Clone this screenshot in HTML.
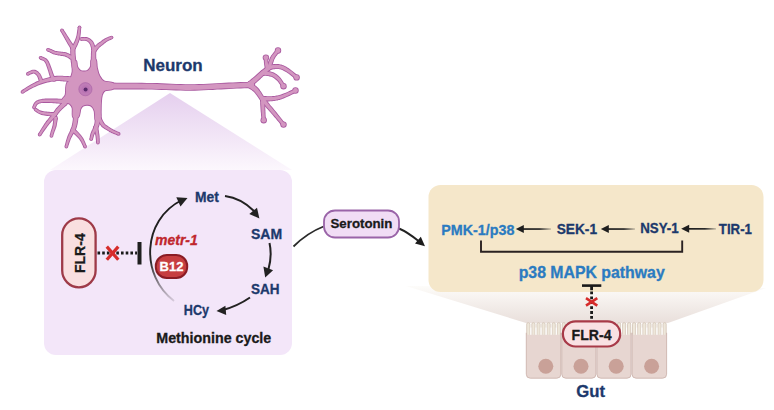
<!DOCTYPE html>
<html><head><meta charset="utf-8">
<style>
html,body{margin:0;padding:0;background:#fff;}
body{width:774px;height:410px;overflow:hidden;}
svg{display:block;}
text{font-family:"Liberation Sans",sans-serif;font-weight:bold;}
</style></head>
<body>
<svg width="774" height="410" viewBox="0 0 774 410">
<defs>
  <linearGradient id="tri" x1="0" y1="0" x2="0" y2="1">
    <stop offset="0" stop-color="#e5cfee"/>
    <stop offset="1" stop-color="#fcf7fd"/>
  </linearGradient>
  <linearGradient id="trap" x1="0" y1="0" x2="0" y2="1">
    <stop offset="0" stop-color="#fdfcfa"/>
    <stop offset="0.2" stop-color="#f9f6f3"/>
    <stop offset="1" stop-color="#e9dfdb"/>
  </linearGradient>
  <linearGradient id="arcg" x1="0" y1="0" x2="0" y2="1">
    <stop offset="0" stop-color="#1a1a1a"/>
    <stop offset="0.6" stop-color="#262626"/>
    <stop offset="1" stop-color="#d6cadb"/>
  </linearGradient>
  <linearGradient id="fadeL" x1="0" y1="0" x2="1" y2="0">
    <stop offset="0" stop-color="#1e1e1e"/>
    <stop offset="0.6" stop-color="#2a2a2a"/>
    <stop offset="1" stop-color="#2a2a2a" stop-opacity="0.2"/>
  </linearGradient>
  <filter id="soft" x="-5%" y="-5%" width="110%" height="110%"><feGaussianBlur stdDeviation="0.35"/></filter>
</defs>

<!-- triangle from neuron to purple box -->
<polygon points="170,93 50,170 292,170" fill="url(#tri)"/>
<!-- purple box -->
<rect x="44" y="170" width="248" height="185" rx="12" fill="#f3e6f9"/>

<!-- trapezoid below beige box -->
<polygon points="406,286 766,288 668,323 526,323" fill="url(#trap)"/>
<!-- beige box -->
<rect x="428.5" y="185" width="335" height="107" rx="12" fill="#f5e7ca"/>

<!-- NEURON placeholder -->
<g id="neuron" filter="url(#soft)">
<g fill="#a9599f">
<path d="M70,79.5 C70.9,77.7 72.1,74.6 72.5,72 C72.9,69.4 71.9,65.8 72.5,64 C73.1,62.2 75.4,60.6 76.2,61 C77.0,61.4 76.6,64.9 77.2,66.5 C77.8,68.1 78.9,69.6 80,70.4 C81.1,71.2 82.7,71.4 84,71.4 C85.3,71.4 86.9,71.2 88,70.4 C89.1,69.6 90.2,68.2 90.8,66.5 C91.4,64.8 90.5,61.1 91.4,60 C92.3,58.9 95.1,58.7 96,60 C96.9,61.3 96.4,65.3 97,68 C97.6,70.7 98.3,73.8 99.5,76 C100.7,78.2 101.8,80.0 104,81.2 C106.2,82.4 111.5,81.7 113,83 C114.5,84.3 114.3,87.8 113,89 C111.7,90.2 106.8,89.5 105,90.5 C103.2,91.5 102.7,92.9 102,95 C101.3,97.1 101.2,100.2 101,103 C100.8,105.8 100.9,109.3 100.8,112 C100.7,114.7 101.4,117.7 100.5,119 C99.6,120.3 96.5,121.3 95.5,120 C94.5,118.7 95.2,113.3 94.5,111 C93.8,108.7 92.8,107.0 91.5,106 C90.2,105.0 88.4,104.8 87,104.8 C85.6,104.8 84.1,105.1 83,105.8 C81.9,106.5 81.2,107.1 80.5,109 C79.8,110.9 79.8,115.7 78.5,117 C77.2,118.3 74.0,118.5 73,117 C72.0,115.5 73.0,110.2 72.5,108 C72.0,105.8 70.9,104.8 70,104 C69.1,103.2 68.3,103.2 67,103 C65.7,102.8 62.8,103.2 62,102.5 C61.2,101.8 61.9,100.2 62.5,99 C63.1,97.8 64.9,96.8 65.5,95 C66.1,93.2 65.8,90.0 66,88 C66.2,86.0 66.3,84.4 67,83 C67.7,81.6 69.1,81.3 70,79.5Z" stroke="#a9599f" stroke-width="1.7" stroke-linejoin="round"/>
<path d="M78.4,70.4 L78.2,69.6 L78.0,68.5 L77.7,67.3 L77.4,65.9 L77.0,64.5 L76.7,63.1 L76.5,61.7 L76.3,60.6 L76.1,59.6 L76.0,58.5 L75.9,57.5 L75.8,56.5 L75.7,55.6 L75.6,54.6 L75.6,53.7 L75.5,52.9 L75.5,52.1 L75.5,51.4 L75.5,50.6 L75.5,49.9 L75.4,49.3 L75.5,48.7 L75.5,48.2 L75.4,47.8 L70.4,47.8 L70.3,48.1 L70.3,48.6 L70.3,49.2 L70.3,49.9 L70.3,50.6 L70.2,51.4 L70.2,52.2 L70.3,53.1 L70.3,54.0 L70.3,54.9 L70.3,55.8 L70.4,56.9 L70.4,57.9 L70.5,59.1 L70.6,60.2 L70.7,61.4 L70.9,62.7 L71.2,64.1 L71.4,65.6 L71.7,67.1 L72.0,68.5 L72.2,69.8 L72.4,70.8 L72.6,71.6Z"/><circle cx="72.9" cy="47.8" r="2.55"/><circle cx="75.5" cy="71.0" r="2.98"/>
<path d="M74.9,46.7 L74.6,46.2 L74.1,45.6 L73.6,44.9 L73.1,44.1 L72.5,43.2 L71.9,42.4 L71.3,41.6 L70.8,40.8 L70.4,40.2 L70.0,39.6 L69.7,39.0 L69.3,38.5 L69.0,37.9 L68.6,37.3 L68.2,36.7 L67.7,36.0 L67.2,35.2 L66.6,34.3 L66.0,33.3 L65.4,32.3 L64.8,31.4 L64.2,30.5 L63.8,29.8 L63.4,29.3 L60.4,31.1 L60.7,31.7 L61.1,32.4 L61.6,33.3 L62.1,34.3 L62.7,35.3 L63.3,36.3 L63.8,37.2 L64.3,38.0 L64.7,38.7 L65.0,39.4 L65.4,40.0 L65.7,40.6 L66.0,41.2 L66.4,41.8 L66.8,42.5 L67.2,43.2 L67.6,43.9 L68.1,44.8 L68.7,45.7 L69.2,46.6 L69.7,47.4 L70.2,48.2 L70.6,48.8 L70.9,49.3Z"/><circle cx="61.9" cy="30.2" r="1.79"/><circle cx="72.9" cy="48.0" r="2.38"/>
<path d="M75.0,49.8 L75.2,49.5 L75.4,49.2 L75.7,48.8 L76.0,48.2 L76.3,47.6 L76.7,47.0 L77.1,46.2 L77.4,45.5 L77.8,44.7 L78.1,43.8 L78.5,42.9 L78.9,41.9 L79.2,40.9 L79.6,39.8 L79.9,38.6 L80.2,37.5 L80.4,36.2 L80.6,34.8 L80.8,33.3 L80.9,31.9 L81.0,30.5 L81.1,29.3 L81.2,28.3 L81.3,27.5 L77.7,27.1 L77.6,27.9 L77.5,28.9 L77.3,30.1 L77.1,31.5 L76.9,32.8 L76.7,34.2 L76.5,35.5 L76.2,36.5 L75.9,37.5 L75.6,38.5 L75.2,39.4 L74.9,40.3 L74.5,41.2 L74.1,42.0 L73.7,42.8 L73.4,43.5 L73.0,44.2 L72.7,44.7 L72.4,45.2 L72.1,45.7 L71.8,46.1 L71.5,46.5 L71.2,46.9 L71.0,47.2Z"/><circle cx="79.5" cy="27.3" r="1.79"/><circle cx="73.0" cy="48.5" r="2.38"/>
<path d="M72.6,55.5 L72.2,55.3 L71.7,55.0 L71.0,54.6 L70.2,54.2 L69.4,53.7 L68.5,53.3 L67.6,52.9 L66.7,52.5 L65.8,52.3 L64.9,52.1 L64.1,52.0 L63.3,51.9 L62.5,51.8 L61.7,51.7 L61.0,51.7 L60.3,51.6 L59.6,51.5 L58.9,51.4 L58.1,51.3 L57.4,51.2 L56.7,51.1 L56.1,51.0 L55.5,50.9 L55.0,50.7 L54.6,50.6 L54.2,50.5 L53.8,50.3 L53.5,50.1 L53.1,49.9 L52.7,49.7 L52.2,49.5 L51.8,49.3 L51.3,49.1 L50.8,48.9 L50.4,48.8 L49.9,48.6 L49.5,48.4 L49.1,48.3 L48.8,48.1 L48.6,48.1 L47.2,51.3 L47.5,51.5 L47.8,51.6 L48.1,51.7 L48.5,51.9 L49.0,52.1 L49.4,52.3 L49.8,52.5 L50.2,52.7 L50.6,52.9 L50.9,53.1 L51.3,53.3 L51.7,53.5 L52.2,53.7 L52.7,54.0 L53.3,54.2 L54.0,54.5 L54.6,54.6 L55.3,54.8 L56.0,55.0 L56.8,55.1 L57.5,55.2 L58.2,55.4 L59.0,55.5 L59.7,55.6 L60.4,55.8 L61.2,55.9 L62.0,56.0 L62.7,56.1 L63.4,56.2 L64.1,56.3 L64.7,56.5 L65.3,56.7 L65.9,56.9 L66.6,57.2 L67.3,57.6 L68.0,58.1 L68.7,58.5 L69.4,58.9 L69.9,59.2 L70.4,59.5Z"/><circle cx="47.9" cy="49.7" r="1.79"/><circle cx="71.5" cy="57.5" r="2.29"/>
<path d="M97.0,70.9 L96.9,70.0 L96.9,68.8 L96.8,67.4 L96.7,65.8 L96.6,64.2 L96.5,62.6 L96.4,61.2 L96.4,59.9 L96.3,58.9 L96.3,57.9 L96.2,56.9 L96.2,56.0 L96.2,55.2 L96.2,54.5 L96.2,53.8 L96.2,53.1 L96.2,52.6 L96.3,52.0 L96.3,51.5 L96.4,51.1 L96.5,50.6 L96.5,50.3 L96.6,49.9 L96.6,49.6 L91.6,48.8 L91.5,49.1 L91.5,49.4 L91.4,49.8 L91.3,50.3 L91.2,50.8 L91.1,51.4 L91.0,52.1 L91.0,52.9 L90.9,53.6 L90.9,54.4 L90.9,55.2 L90.9,56.1 L90.8,57.0 L90.8,57.9 L90.8,59.0 L90.8,60.1 L90.8,61.3 L90.9,62.8 L90.9,64.4 L90.9,66.0 L91.0,67.6 L91.0,69.0 L91.0,70.2 L91.0,71.1Z"/><circle cx="94.1" cy="49.2" r="2.55"/><circle cx="94.0" cy="71.0" r="2.98"/>
<path d="M96.2,48.7 L96.0,48.2 L95.8,47.4 L95.4,46.5 L95.0,45.4 L94.6,44.4 L94.1,43.3 L93.6,42.2 L93.0,41.3 L92.4,40.5 L91.7,39.9 L91.1,39.3 L90.4,38.8 L89.7,38.3 L88.9,37.9 L88.2,37.6 L87.4,37.3 L86.5,37.1 L85.5,37.0 L84.5,37.0 L83.6,37.0 L82.7,37.1 L82.0,37.1 L81.4,37.2 L81.0,37.2 L81.0,40.8 L81.5,40.8 L82.2,40.8 L82.9,40.8 L83.7,40.8 L84.4,40.8 L85.2,40.8 L85.8,40.9 L86.2,41.1 L86.7,41.3 L87.1,41.5 L87.6,41.8 L88.0,42.1 L88.4,42.4 L88.7,42.8 L89.1,43.2 L89.4,43.7 L89.7,44.3 L90.1,45.0 L90.4,46.0 L90.7,47.0 L91.0,48.0 L91.3,48.9 L91.6,49.7 L91.8,50.3Z"/><circle cx="81.0" cy="39.0" r="1.79"/><circle cx="94.0" cy="49.5" r="2.38"/>
<path d="M96.3,51.5 L96.6,51.2 L96.9,50.8 L97.4,50.2 L97.8,49.7 L98.3,49.1 L98.7,48.5 L99.2,48.0 L99.5,47.6 L99.9,47.3 L100.2,47.0 L100.6,46.7 L100.9,46.4 L101.3,46.1 L101.7,45.8 L102.2,45.5 L102.7,45.1 L103.2,44.7 L103.7,44.2 L104.3,43.8 L104.8,43.3 L105.4,42.9 L105.9,42.4 L106.4,42.0 L107.0,41.7 L107.6,41.3 L108.3,41.0 L109.0,40.6 L109.8,40.3 L110.6,39.9 L111.3,39.6 L111.9,39.3 L112.3,39.1 L110.9,35.9 L110.5,36.0 L109.9,36.2 L109.2,36.5 L108.4,36.8 L107.5,37.2 L106.7,37.5 L105.8,37.9 L105.0,38.3 L104.3,38.7 L103.6,39.2 L102.9,39.6 L102.3,40.1 L101.7,40.5 L101.1,41.0 L100.6,41.4 L100.1,41.7 L99.7,42.0 L99.2,42.3 L98.8,42.6 L98.4,42.9 L97.9,43.2 L97.4,43.6 L97.0,43.9 L96.5,44.4 L95.9,44.9 L95.4,45.5 L94.8,46.1 L94.3,46.7 L93.8,47.2 L93.3,47.7 L93.0,48.2 L92.7,48.5Z"/><circle cx="111.6" cy="37.5" r="1.79"/><circle cx="94.5" cy="50.0" r="2.38"/>
<path d="M72.4,76.6 L72.0,76.5 L71.5,76.4 L70.8,76.4 L70.1,76.3 L69.2,76.2 L68.3,76.1 L67.2,76.0 L66.2,76.0 L65.1,75.9 L63.9,75.9 L62.6,75.8 L61.3,75.7 L59.8,75.7 L58.2,75.7 L56.6,75.8 L55.0,76.0 L53.4,76.3 L51.6,76.6 L49.9,77.0 L48.1,77.4 L46.3,77.9 L44.5,78.4 L42.7,79.0 L41.1,79.5 L39.4,80.2 L37.8,80.9 L36.2,81.6 L34.6,82.4 L33.1,83.2 L31.7,84.0 L30.3,84.7 L29.1,85.5 L27.8,86.2 L26.6,86.9 L25.5,87.7 L24.4,88.4 L23.5,89.1 L22.6,89.6 L22.0,90.1 L21.4,90.5 L23.4,93.5 L24.0,93.1 L24.7,92.7 L25.5,92.1 L26.5,91.5 L27.5,90.9 L28.6,90.2 L29.8,89.6 L30.9,88.9 L32.2,88.3 L33.6,87.6 L35.0,86.9 L36.5,86.3 L38.0,85.6 L39.5,85.0 L41.0,84.4 L42.5,83.9 L44.1,83.4 L45.8,83.0 L47.5,82.5 L49.2,82.2 L50.9,81.8 L52.5,81.6 L54.1,81.3 L55.6,81.2 L57.0,81.1 L58.3,81.1 L59.7,81.1 L61.0,81.2 L62.3,81.3 L63.5,81.4 L64.7,81.5 L65.8,81.6 L66.8,81.7 L67.7,81.8 L68.5,81.9 L69.3,82.1 L70.0,82.2 L70.6,82.3 L71.2,82.4 L71.6,82.4Z"/><circle cx="22.4" cy="92.0" r="1.79"/><circle cx="72.0" cy="79.5" r="2.98"/>
<path d="M55.9,78.3 L55.7,78.0 L55.5,77.6 L55.3,77.3 L55.0,77.0 L54.8,76.6 L54.5,76.1 L54.2,75.6 L54.0,75.1 L53.7,74.4 L53.4,73.5 L53.0,72.5 L52.7,71.4 L52.3,70.3 L51.9,69.2 L51.5,68.1 L51.1,67.1 L50.7,66.1 L50.4,65.1 L50.0,64.1 L49.5,63.1 L49.1,62.1 L48.6,61.1 L48.0,60.2 L47.3,59.3 L46.5,58.6 L45.5,57.9 L44.6,57.4 L43.7,57.1 L42.9,56.7 L42.1,56.5 L41.6,56.3 L41.2,56.2 L39.8,59.4 L40.3,59.7 L40.9,59.9 L41.6,60.2 L42.3,60.4 L43.0,60.8 L43.6,61.1 L44.1,61.5 L44.5,61.9 L44.8,62.4 L45.2,63.0 L45.5,63.8 L45.9,64.6 L46.2,65.5 L46.6,66.5 L46.9,67.5 L47.3,68.5 L47.6,69.5 L47.9,70.5 L48.3,71.6 L48.6,72.7 L48.9,73.8 L49.2,74.8 L49.5,75.8 L49.8,76.7 L50.2,77.5 L50.5,78.3 L50.9,78.9 L51.2,79.4 L51.5,79.9 L51.8,80.3 L51.9,80.5 L52.1,80.7Z"/><circle cx="40.5" cy="57.8" r="1.79"/><circle cx="54.0" cy="79.5" r="2.29"/>
<path d="M43.3,80.2 L43.1,79.7 L42.8,79.1 L42.5,78.3 L42.1,77.3 L41.7,76.4 L41.3,75.4 L40.7,74.4 L40.2,73.6 L39.5,72.9 L38.9,72.2 L38.3,71.6 L37.5,71.1 L36.7,70.6 L35.9,70.1 L35.0,69.8 L33.9,69.7 L32.8,69.7 L31.7,70.0 L30.7,70.4 L29.7,70.9 L28.8,71.3 L28.1,71.7 L27.5,72.1 L27.1,72.3 L28.5,75.5 L29.1,75.3 L29.7,75.0 L30.5,74.6 L31.3,74.2 L32.1,73.9 L32.8,73.7 L33.4,73.5 L33.7,73.5 L34.0,73.6 L34.3,73.7 L34.7,74.0 L35.2,74.3 L35.6,74.7 L36.1,75.1 L36.5,75.6 L36.8,76.0 L37.2,76.5 L37.5,77.2 L37.8,78.0 L38.1,78.9 L38.4,79.7 L38.7,80.5 L38.9,81.3 L39.1,81.8Z"/><circle cx="27.8" cy="73.9" r="1.79"/><circle cx="41.2" cy="81.0" r="2.21"/>
<path d="M64.2,99.0 L63.2,98.9 L62.0,98.9 L60.5,98.8 L58.8,98.7 L57.0,98.6 L55.3,98.6 L53.6,98.5 L52.1,98.5 L50.7,98.5 L49.3,98.5 L47.9,98.6 L46.6,98.6 L45.3,98.6 L44.0,98.7 L42.8,98.8 L41.7,99.0 L40.7,99.2 L39.8,99.4 L38.9,99.6 L38.1,99.9 L37.3,100.2 L36.6,100.6 L35.9,101.0 L35.3,101.6 L34.6,102.3 L34.0,103.0 L33.6,103.8 L33.2,104.6 L32.9,105.3 L32.7,106.0 L32.5,106.4 L32.4,106.7 L35.6,108.3 L35.8,107.9 L36.1,107.3 L36.3,106.7 L36.6,106.1 L36.9,105.6 L37.2,105.1 L37.5,104.7 L37.7,104.4 L38.1,104.2 L38.5,104.0 L38.9,103.8 L39.4,103.6 L40.0,103.4 L40.7,103.3 L41.4,103.1 L42.3,103.0 L43.2,102.9 L44.3,102.9 L45.4,102.9 L46.6,102.9 L47.9,102.9 L49.2,103.0 L50.6,103.0 L51.9,103.1 L53.4,103.2 L55.0,103.3 L56.7,103.4 L58.5,103.6 L60.1,103.7 L61.6,103.8 L62.9,104.0 L63.8,104.0Z"/><circle cx="34.0" cy="107.5" r="1.79"/><circle cx="64.0" cy="101.5" r="2.55"/>
<path d="M34.5,111.0 L34.9,111.2 L35.3,111.6 L35.9,112.0 L36.6,112.5 L37.4,113.1 L38.3,113.6 L39.3,114.1 L40.4,114.6 L41.6,114.9 L43.0,115.2 L44.4,115.5 L45.8,115.7 L47.2,115.9 L48.6,116.1 L49.8,116.2 L50.7,116.4 L51.6,116.5 L52.3,116.6 L53.0,116.7 L53.5,116.7 L54.0,116.7 L54.3,116.8 L54.6,116.8 L54.9,116.8 L55.1,112.2 L54.8,112.2 L54.5,112.2 L54.1,112.2 L53.7,112.2 L53.3,112.2 L52.7,112.1 L52.1,112.1 L51.3,112.0 L50.3,111.9 L49.1,111.8 L47.7,111.7 L46.4,111.6 L45.0,111.4 L43.7,111.3 L42.5,111.1 L41.6,110.8 L40.8,110.6 L40.0,110.3 L39.3,109.9 L38.7,109.5 L38.0,109.1 L37.5,108.7 L36.9,108.3 L36.5,108.0Z"/><circle cx="55.0" cy="114.5" r="2.29"/><circle cx="35.5" cy="109.5" r="1.79"/>
<path d="M63.0,101.0 L62.5,101.5 L61.9,102.2 L61.0,103.0 L60.1,104.0 L59.2,105.0 L58.2,105.9 L57.4,106.9 L56.6,107.8 L55.9,108.6 L55.4,109.3 L54.9,110.0 L54.4,110.7 L54.0,111.3 L53.5,112.0 L53.0,112.7 L52.4,113.5 L51.7,114.4 L50.9,115.4 L50.1,116.4 L49.1,117.5 L48.2,118.7 L47.2,119.9 L46.2,121.1 L45.3,122.4 L44.3,123.8 L43.3,125.4 L42.3,127.0 L41.2,128.7 L40.3,130.2 L39.4,131.7 L38.7,132.8 L38.1,133.7 L41.1,135.7 L41.7,134.8 L42.5,133.7 L43.4,132.3 L44.5,130.8 L45.6,129.2 L46.7,127.7 L47.7,126.2 L48.7,125.0 L49.6,123.8 L50.6,122.7 L51.6,121.6 L52.6,120.5 L53.5,119.4 L54.5,118.4 L55.3,117.5 L56.2,116.5 L56.9,115.6 L57.5,114.9 L58.0,114.2 L58.5,113.6 L58.9,113.0 L59.4,112.4 L59.8,111.8 L60.4,111.2 L61.1,110.5 L62.0,109.6 L62.9,108.7 L63.9,107.8 L64.8,107.0 L65.7,106.2 L66.4,105.5 L67.0,105.0Z"/><circle cx="39.6" cy="134.7" r="1.79"/><circle cx="65.0" cy="103.0" r="2.80"/>
<path d="M53.5,117.7 L53.4,118.3 L53.3,119.2 L53.2,120.2 L53.1,121.3 L53.0,122.5 L52.8,123.6 L52.7,124.7 L52.5,125.6 L52.3,126.3 L52.1,127.1 L51.9,127.8 L51.7,128.6 L51.4,129.3 L51.2,130.0 L50.9,130.7 L50.7,131.4 L50.5,132.1 L50.4,132.7 L50.2,133.3 L50.1,133.9 L49.9,134.4 L49.8,134.9 L49.7,135.2 L49.7,135.5 L53.1,136.5 L53.2,136.2 L53.3,135.8 L53.4,135.3 L53.6,134.8 L53.7,134.3 L53.9,133.7 L54.1,133.2 L54.3,132.6 L54.5,132.0 L54.7,131.3 L55.0,130.7 L55.3,129.9 L55.6,129.1 L55.9,128.3 L56.2,127.4 L56.5,126.4 L56.7,125.4 L56.9,124.3 L57.1,123.1 L57.3,121.9 L57.5,120.8 L57.7,119.8 L57.8,118.9 L57.9,118.3Z"/><circle cx="51.4" cy="136.0" r="1.79"/><circle cx="55.7" cy="118.0" r="2.21"/>
<path d="M72.9,113.9 L72.9,114.4 L72.9,115.0 L72.9,115.7 L72.9,116.5 L72.9,117.4 L72.8,118.2 L72.8,119.0 L72.8,119.7 L72.7,120.4 L72.6,121.1 L72.5,121.9 L72.4,122.6 L72.2,123.4 L72.1,124.1 L72.0,124.7 L71.8,125.3 L71.7,125.9 L71.6,126.4 L71.4,126.9 L71.2,127.5 L71.0,127.9 L70.9,128.4 L70.7,128.8 L70.6,129.1 L75.4,130.9 L75.5,130.6 L75.6,130.3 L75.8,129.8 L76.1,129.3 L76.3,128.7 L76.5,128.1 L76.7,127.4 L77.0,126.7 L77.1,125.9 L77.3,125.2 L77.5,124.4 L77.7,123.6 L77.8,122.8 L78.0,122.0 L78.1,121.1 L78.2,120.3 L78.3,119.4 L78.4,118.5 L78.5,117.6 L78.6,116.7 L78.6,115.9 L78.6,115.2 L78.7,114.6 L78.7,114.1Z"/><circle cx="73.0" cy="130.0" r="2.55"/><circle cx="75.8" cy="114.0" r="2.89"/>
<path d="M70.9,128.9 L70.6,129.5 L70.2,130.3 L69.7,131.3 L69.2,132.4 L68.6,133.6 L68.1,134.8 L67.5,136.0 L67.1,137.2 L66.7,138.4 L66.3,139.7 L65.9,141.0 L65.6,142.3 L65.3,143.5 L65.0,144.6 L64.8,145.5 L64.6,146.2 L68.0,147.2 L68.2,146.5 L68.5,145.6 L68.9,144.6 L69.2,143.4 L69.6,142.2 L70.1,141.0 L70.5,139.8 L70.9,138.8 L71.4,137.8 L72.0,136.7 L72.6,135.6 L73.2,134.5 L73.8,133.5 L74.3,132.5 L74.8,131.7 L75.1,131.1Z"/><circle cx="66.3" cy="146.7" r="1.79"/><circle cx="73.0" cy="130.0" r="2.38"/>
<path d="M71.9,132.2 L72.3,132.5 L72.9,133.0 L73.5,133.6 L74.2,134.2 L74.9,134.9 L75.6,135.5 L76.3,136.2 L76.8,136.7 L77.3,137.3 L77.8,137.8 L78.3,138.3 L78.7,138.8 L79.1,139.3 L79.5,139.8 L79.9,140.4 L80.3,141.0 L80.7,141.7 L81.2,142.5 L81.6,143.4 L82.1,144.4 L82.5,145.3 L82.9,146.2 L83.2,146.9 L83.5,147.4 L86.7,146.0 L86.5,145.5 L86.2,144.7 L85.9,143.9 L85.5,142.9 L85.1,141.9 L84.6,140.9 L84.2,139.9 L83.7,139.0 L83.3,138.2 L82.8,137.5 L82.4,136.9 L81.9,136.3 L81.5,135.7 L81.0,135.1 L80.5,134.5 L80.0,133.9 L79.4,133.2 L78.7,132.5 L78.0,131.7 L77.3,131.0 L76.6,130.3 L76.0,129.7 L75.5,129.2 L75.1,128.8Z"/><circle cx="85.1" cy="146.7" r="1.79"/><circle cx="73.5" cy="130.5" r="2.29"/>
<path d="M95.0,115.7 L95.0,116.3 L94.9,117.2 L94.9,118.3 L94.8,119.4 L94.7,120.6 L94.6,121.7 L94.5,122.7 L94.4,123.4 L94.2,124.0 L94.1,124.5 L94.0,125.0 L93.8,125.5 L93.6,125.9 L93.5,126.3 L93.3,126.7 L93.2,127.0 L97.8,129.0 L98.0,128.8 L98.1,128.5 L98.3,128.1 L98.6,127.5 L98.9,126.9 L99.1,126.2 L99.4,125.4 L99.6,124.6 L99.8,123.6 L100.0,122.5 L100.2,121.3 L100.4,120.1 L100.6,118.9 L100.7,117.8 L100.9,117.0 L101.0,116.3Z"/><circle cx="95.5" cy="128.0" r="2.55"/><circle cx="98.0" cy="116.0" r="2.98"/>
<path d="M93.5,126.9 L93.2,127.4 L92.9,128.0 L92.6,128.8 L92.2,129.7 L91.7,130.6 L91.3,131.5 L90.9,132.4 L90.6,133.3 L90.4,134.1 L90.1,135.0 L90.0,135.8 L89.8,136.6 L89.7,137.4 L89.6,138.0 L89.5,138.5 L89.5,138.9 L92.9,139.7 L93.1,139.3 L93.2,138.7 L93.3,138.1 L93.5,137.4 L93.7,136.7 L93.9,136.0 L94.1,135.3 L94.4,134.7 L94.7,134.1 L95.1,133.3 L95.5,132.5 L96.0,131.7 L96.5,130.9 L96.9,130.2 L97.3,129.5 L97.5,129.1Z"/><circle cx="91.2" cy="139.3" r="1.79"/><circle cx="95.5" cy="128.0" r="2.29"/>
<path d="M93.7,128.4 L93.9,129.1 L94.1,129.9 L94.3,130.9 L94.6,132.0 L94.9,133.1 L95.1,134.3 L95.3,135.3 L95.5,136.3 L95.6,137.1 L95.7,138.1 L95.8,139.0 L95.9,139.9 L96.0,140.8 L96.0,141.6 L96.1,142.3 L96.1,142.8 L99.7,142.6 L99.7,142.1 L99.7,141.5 L99.7,140.7 L99.7,139.8 L99.7,138.8 L99.6,137.8 L99.6,136.8 L99.5,135.7 L99.4,134.7 L99.2,133.5 L99.0,132.3 L98.9,131.2 L98.7,130.0 L98.5,129.0 L98.4,128.2 L98.3,127.6Z"/><circle cx="97.9" cy="142.7" r="1.79"/><circle cx="96.0" cy="128.0" r="2.29"/>
<path d="M97.4,120.1 L97.7,120.6 L98.0,121.2 L98.4,122.0 L98.9,122.9 L99.4,123.8 L100.0,124.7 L100.7,125.6 L101.3,126.5 L102.0,127.2 L102.8,127.8 L103.5,128.3 L104.2,128.8 L104.9,129.2 L105.6,129.6 L106.3,130.0 L106.9,130.3 L107.5,130.7 L108.2,131.1 L108.8,131.5 L109.4,131.9 L110.1,132.2 L110.8,132.6 L111.4,132.9 L112.2,133.2 L112.9,133.6 L113.8,133.9 L114.6,134.3 L115.5,134.6 L116.3,134.9 L117.0,135.2 L117.6,135.4 L118.0,135.6 L119.4,132.2 L118.9,132.1 L118.3,131.8 L117.6,131.5 L116.9,131.2 L116.1,130.8 L115.3,130.5 L114.5,130.1 L113.8,129.8 L113.2,129.4 L112.6,129.1 L112.0,128.8 L111.5,128.4 L110.9,128.0 L110.3,127.7 L109.7,127.3 L109.1,126.9 L108.5,126.4 L107.8,126.0 L107.2,125.6 L106.6,125.2 L106.0,124.8 L105.5,124.4 L105.1,124.0 L104.7,123.5 L104.3,123.0 L103.9,122.3 L103.4,121.5 L103.0,120.7 L102.6,119.9 L102.2,119.1 L101.9,118.4 L101.6,117.9Z"/><circle cx="118.7" cy="133.9" r="1.79"/><circle cx="99.5" cy="119.0" r="2.38"/>
<path d="M99.8,88.9 L100.6,88.9 L101.5,89.0 L102.6,89.0 L103.9,89.1 L105.5,89.2 L107.5,89.3 L110.0,89.3 L113.0,89.4 L116.6,89.4 L120.9,89.4 L125.8,89.4 L130.9,89.5 L136.3,89.5 L141.7,89.5 L147.0,89.5 L151.9,89.6 L156.7,89.7 L161.5,89.9 L166.3,90.1 L171.1,90.3 L175.9,90.5 L180.6,90.6 L185.4,90.7 L190.0,90.7 L194.6,90.7 L199.3,90.5 L203.8,90.3 L208.4,90.1 L212.8,89.9 L217.1,89.6 L221.2,89.4 L225.1,89.2 L229.1,89.0 L233.1,88.8 L237.0,88.6 L240.8,88.5 L244.3,88.3 L247.5,88.2 L250.1,88.0 L252.1,87.9 L251.9,81.7 L249.8,81.7 L247.2,81.9 L244.1,82.0 L240.5,82.1 L236.8,82.3 L232.8,82.5 L228.8,82.6 L224.9,82.8 L220.9,83.0 L216.7,83.2 L212.4,83.5 L208.0,83.7 L203.6,83.9 L199.0,84.1 L194.5,84.2 L190.0,84.3 L185.4,84.2 L180.8,84.1 L176.1,83.9 L171.4,83.7 L166.6,83.5 L161.8,83.3 L156.9,83.1 L152.1,83.0 L147.0,82.9 L141.7,82.8 L136.3,82.8 L131.0,82.8 L125.8,82.7 L121.0,82.7 L116.7,82.7 L113.0,82.6 L110.1,82.6 L107.7,82.5 L105.8,82.4 L104.2,82.3 L103.0,82.3 L101.9,82.2 L101.0,82.1 L100.2,82.1Z"/><circle cx="252.0" cy="84.8" r="3.15"/><circle cx="100.0" cy="85.5" r="3.40"/>
<path d="M251.0,87.2 L251.5,86.8 L252.2,86.2 L253.1,85.5 L254.0,84.7 L255.0,83.8 L256.1,82.9 L257.0,82.1 L258.0,81.3 L258.8,80.5 L259.7,79.7 L260.5,78.9 L261.3,78.1 L262.1,77.4 L262.9,76.6 L263.7,75.9 L264.5,75.2 L265.3,74.4 L266.2,73.6 L267.2,72.8 L268.1,72.0 L269.0,71.3 L269.8,70.6 L270.4,70.0 L270.9,69.6 L267.5,65.4 L267.0,65.8 L266.3,66.4 L265.5,67.0 L264.5,67.7 L263.6,68.5 L262.6,69.3 L261.6,70.1 L260.7,70.8 L259.9,71.6 L259.0,72.3 L258.2,73.1 L257.3,73.8 L256.5,74.6 L255.7,75.3 L254.9,76.0 L254.0,76.7 L253.1,77.5 L252.2,78.3 L251.1,79.1 L250.1,79.9 L249.2,80.7 L248.3,81.3 L247.6,81.9 L247.0,82.4Z"/><circle cx="269.2" cy="67.5" r="2.72"/><circle cx="249.0" cy="84.8" r="3.15"/>
<path d="M271.5,68.7 L271.6,68.3 L271.8,67.8 L271.9,67.2 L272.1,66.6 L272.3,65.9 L272.4,65.2 L272.6,64.5 L272.9,63.8 L273.1,63.1 L273.3,62.4 L273.6,61.7 L273.8,61.0 L274.0,60.3 L274.3,59.6 L274.6,58.9 L275.0,58.2 L275.4,57.5 L276.0,56.6 L276.7,55.7 L277.4,54.8 L278.1,53.9 L278.7,53.1 L279.3,52.4 L279.7,51.8 L276.3,49.2 L275.9,49.7 L275.4,50.3 L274.7,51.1 L273.9,52.0 L273.1,52.9 L272.4,53.9 L271.6,54.9 L271.0,55.8 L270.5,56.7 L270.0,57.5 L269.6,58.4 L269.3,59.2 L269.0,60.0 L268.7,60.8 L268.4,61.5 L268.1,62.2 L267.9,62.9 L267.6,63.7 L267.3,64.4 L267.1,65.2 L266.9,65.8 L266.7,66.4 L266.6,66.9 L266.5,67.3Z"/><circle cx="278.0" cy="50.5" r="2.12"/><circle cx="269.0" cy="68.0" r="2.63"/>
<path d="M270.0,68.5 L269.9,68.0 L269.7,67.4 L269.5,66.6 L269.3,65.8 L269.1,65.0 L268.9,64.2 L268.7,63.4 L268.6,62.7 L268.5,62.0 L268.4,61.3 L268.3,60.5 L268.2,59.8 L268.2,59.1 L268.1,58.4 L268.1,57.9 L268.0,57.5 L263.8,57.7 L263.8,58.1 L263.8,58.7 L263.8,59.3 L263.8,60.1 L263.8,60.9 L263.9,61.7 L263.9,62.5 L264.0,63.3 L264.1,64.2 L264.2,65.0 L264.4,66.0 L264.5,66.8 L264.7,67.7 L264.8,68.4 L264.9,69.1 L265.0,69.5Z"/><circle cx="265.9" cy="57.6" r="2.12"/><circle cx="267.5" cy="69.0" r="2.55"/>
<path d="M269.4,70.1 L270.0,70.0 L270.8,69.8 L271.6,69.7 L272.5,69.5 L273.5,69.3 L274.4,69.2 L275.3,69.1 L276.0,69.0 L276.8,69.0 L277.5,69.0 L278.2,69.0 L278.8,69.1 L279.5,69.2 L280.1,69.3 L280.8,69.5 L281.5,69.7 L282.3,70.1 L283.1,70.5 L284.0,70.9 L285.0,71.5 L285.9,72.0 L286.9,72.6 L287.8,73.3 L288.7,73.8 L289.6,74.5 L290.5,75.2 L291.4,75.9 L292.4,76.7 L293.2,77.4 L294.0,78.0 L294.7,78.6 L295.2,79.0 L298.0,75.8 L297.5,75.4 L296.8,74.8 L296.1,74.1 L295.2,73.3 L294.2,72.5 L293.3,71.7 L292.3,70.9 L291.3,70.2 L290.4,69.5 L289.4,68.8 L288.4,68.1 L287.4,67.5 L286.4,66.8 L285.3,66.3 L284.3,65.7 L283.3,65.3 L282.3,64.9 L281.3,64.6 L280.4,64.4 L279.5,64.2 L278.6,64.1 L277.7,64.0 L276.9,64.0 L276.0,64.0 L274.9,64.0 L273.8,64.1 L272.7,64.2 L271.7,64.4 L270.7,64.6 L269.8,64.7 L269.1,64.8 L268.6,64.9Z"/><circle cx="296.6" cy="77.4" r="2.12"/><circle cx="269.0" cy="67.5" r="2.63"/>
<path d="M262.4,75.6 L262.8,75.7 L263.4,75.7 L264.1,75.7 L264.8,75.7 L265.5,75.8 L266.2,75.8 L266.9,75.9 L267.5,76.0 L268.2,76.1 L268.9,76.2 L269.5,76.4 L270.2,76.5 L270.8,76.7 L271.3,76.8 L271.9,77.1 L272.5,77.3 L273.1,77.7 L273.7,78.0 L274.3,78.4 L274.9,78.9 L275.5,79.4 L276.1,79.9 L276.7,80.4 L277.3,81.0 L277.9,81.7 L278.5,82.5 L279.1,83.4 L279.7,84.3 L280.3,85.2 L280.9,86.1 L281.3,86.8 L281.7,87.3 L285.3,85.1 L285.0,84.5 L284.5,83.8 L284.0,82.9 L283.4,81.9 L282.8,80.9 L282.1,79.9 L281.4,78.9 L280.7,78.0 L280.0,77.2 L279.3,76.5 L278.6,75.8 L277.8,75.2 L277.1,74.6 L276.3,74.0 L275.5,73.5 L274.7,73.1 L273.9,72.6 L273.1,72.3 L272.3,72.0 L271.4,71.7 L270.7,71.5 L269.9,71.3 L269.2,71.2 L268.5,71.0 L267.7,70.9 L266.8,70.7 L265.9,70.6 L265.1,70.6 L264.4,70.5 L263.7,70.4 L263.2,70.4 L262.8,70.4Z"/><circle cx="283.5" cy="86.2" r="2.12"/><circle cx="262.6" cy="73.0" r="2.63"/>
<path d="M247.2,87.4 L247.7,87.7 L248.4,88.2 L249.2,88.7 L250.1,89.2 L251.0,89.8 L251.8,90.3 L252.5,90.9 L253.1,91.3 L253.5,91.7 L253.9,92.0 L254.2,92.3 L254.4,92.6 L254.7,92.9 L255.0,93.3 L255.4,93.8 L255.9,94.4 L256.4,95.1 L257.0,95.9 L257.6,96.8 L258.3,97.8 L258.9,98.7 L259.5,99.5 L260.0,100.3 L260.3,100.8 L264.9,97.8 L264.5,97.3 L264.1,96.5 L263.5,95.7 L262.9,94.7 L262.3,93.7 L261.7,92.7 L261.1,91.8 L260.5,91.0 L260.1,90.4 L259.7,89.8 L259.4,89.3 L259.0,88.8 L258.5,88.3 L258.1,87.8 L257.5,87.3 L256.9,86.7 L256.2,86.1 L255.3,85.4 L254.4,84.8 L253.5,84.1 L252.6,83.5 L251.9,83.0 L251.2,82.5 L250.8,82.2Z"/><circle cx="262.6" cy="99.3" r="2.72"/><circle cx="249.0" cy="84.8" r="3.15"/>
<path d="M262.5,101.1 L263.0,101.2 L263.7,101.2 L264.6,101.2 L265.6,101.3 L266.7,101.3 L267.9,101.4 L269.0,101.4 L270.1,101.3 L271.1,101.3 L272.1,101.2 L273.2,101.1 L274.2,100.9 L275.3,100.8 L276.4,100.6 L277.5,100.4 L278.6,100.1 L279.6,99.9 L280.7,99.5 L281.7,99.2 L282.7,98.8 L283.7,98.4 L284.7,98.0 L285.8,97.6 L286.9,97.1 L288.1,96.6 L289.4,95.9 L290.8,95.2 L292.2,94.6 L293.5,93.9 L294.7,93.3 L295.7,92.8 L296.4,92.4 L294.6,88.6 L293.8,88.9 L292.8,89.4 L291.6,90.0 L290.3,90.6 L288.9,91.2 L287.5,91.9 L286.3,92.4 L285.1,92.9 L284.1,93.3 L283.0,93.7 L282.1,94.1 L281.1,94.4 L280.2,94.7 L279.3,95.0 L278.4,95.2 L277.4,95.5 L276.5,95.6 L275.6,95.8 L274.6,95.9 L273.7,96.0 L272.7,96.1 L271.8,96.2 L270.8,96.2 L269.9,96.3 L269.0,96.3 L268.0,96.3 L267.0,96.2 L266.0,96.1 L265.0,96.1 L264.1,96.0 L263.3,95.9 L262.7,95.9Z"/><circle cx="295.5" cy="90.5" r="2.12"/><circle cx="262.6" cy="98.5" r="2.63"/>
<path d="M260.0,99.1 L260.0,99.9 L260.1,101.1 L260.2,102.4 L260.2,103.9 L260.3,105.5 L260.4,107.1 L260.5,108.7 L260.6,110.1 L260.7,111.5 L260.9,113.0 L261.0,114.5 L261.1,115.9 L261.3,117.3 L261.4,118.5 L261.5,119.6 L261.6,120.4 L265.8,120.0 L265.8,119.3 L265.7,118.2 L265.7,117.0 L265.6,115.6 L265.5,114.2 L265.5,112.7 L265.4,111.2 L265.4,109.9 L265.3,108.5 L265.3,107.0 L265.3,105.4 L265.3,103.8 L265.3,102.3 L265.3,100.9 L265.2,99.8 L265.2,98.9Z"/><circle cx="263.7" cy="120.2" r="2.12"/><circle cx="262.6" cy="99.0" r="2.63"/>
<path d="M260.9,101.1 L261.3,101.6 L261.8,102.2 L262.4,103.0 L263.1,103.9 L263.8,104.8 L264.6,105.8 L265.3,106.7 L266.1,107.6 L266.7,108.4 L267.4,109.1 L268.0,109.8 L268.7,110.5 L269.3,111.3 L270.1,112.1 L270.9,113.0 L271.8,114.0 L272.9,115.3 L274.2,116.9 L275.7,118.6 L277.2,120.4 L278.6,122.1 L279.9,123.7 L281.0,125.0 L281.9,125.9 L285.1,123.3 L284.4,122.3 L283.3,120.9 L282.0,119.3 L280.6,117.5 L279.2,115.7 L277.8,113.9 L276.5,112.3 L275.4,111.0 L274.5,109.9 L273.7,108.9 L273.0,108.0 L272.3,107.3 L271.7,106.6 L271.1,105.9 L270.5,105.2 L269.9,104.4 L269.3,103.6 L268.6,102.7 L267.9,101.7 L267.2,100.8 L266.6,99.9 L266.0,99.1 L265.5,98.4 L265.1,97.9Z"/><circle cx="283.5" cy="124.6" r="2.12"/><circle cx="263.0" cy="99.5" r="2.63"/>
<circle cx="265.9" cy="57.6" r="3.2"/><circle cx="278" cy="50.5" r="3.2"/><circle cx="296.6" cy="77.4" r="3.2"/><circle cx="283.5" cy="86.2" r="3.2"/><circle cx="295.5" cy="90.5" r="3.2"/><circle cx="263.7" cy="120.2" r="3.2"/><circle cx="283.5" cy="124.6" r="3.2"/>
</g>
<g fill="#d396c0">
<path d="M70,79.5 C70.9,77.7 72.1,74.6 72.5,72 C72.9,69.4 71.9,65.8 72.5,64 C73.1,62.2 75.4,60.6 76.2,61 C77.0,61.4 76.6,64.9 77.2,66.5 C77.8,68.1 78.9,69.6 80,70.4 C81.1,71.2 82.7,71.4 84,71.4 C85.3,71.4 86.9,71.2 88,70.4 C89.1,69.6 90.2,68.2 90.8,66.5 C91.4,64.8 90.5,61.1 91.4,60 C92.3,58.9 95.1,58.7 96,60 C96.9,61.3 96.4,65.3 97,68 C97.6,70.7 98.3,73.8 99.5,76 C100.7,78.2 101.8,80.0 104,81.2 C106.2,82.4 111.5,81.7 113,83 C114.5,84.3 114.3,87.8 113,89 C111.7,90.2 106.8,89.5 105,90.5 C103.2,91.5 102.7,92.9 102,95 C101.3,97.1 101.2,100.2 101,103 C100.8,105.8 100.9,109.3 100.8,112 C100.7,114.7 101.4,117.7 100.5,119 C99.6,120.3 96.5,121.3 95.5,120 C94.5,118.7 95.2,113.3 94.5,111 C93.8,108.7 92.8,107.0 91.5,106 C90.2,105.0 88.4,104.8 87,104.8 C85.6,104.8 84.1,105.1 83,105.8 C81.9,106.5 81.2,107.1 80.5,109 C79.8,110.9 79.8,115.7 78.5,117 C77.2,118.3 74.0,118.5 73,117 C72.0,115.5 73.0,110.2 72.5,108 C72.0,105.8 70.9,104.8 70,104 C69.1,103.2 68.3,103.2 67,103 C65.7,102.8 62.8,103.2 62,102.5 C61.2,101.8 61.9,100.2 62.5,99 C63.1,97.8 64.9,96.8 65.5,95 C66.1,93.2 65.8,90.0 66,88 C66.2,86.0 66.3,84.4 67,83 C67.7,81.6 69.1,81.3 70,79.5Z"/>
<path d="M77.6,70.6 L77.4,69.8 L77.2,68.7 L76.9,67.5 L76.5,66.1 L76.2,64.6 L75.9,63.2 L75.6,61.9 L75.4,60.7 L75.3,59.7 L75.1,58.6 L75.0,57.6 L74.9,56.6 L74.9,55.6 L74.8,54.7 L74.7,53.8 L74.7,52.9 L74.7,52.1 L74.6,51.4 L74.6,50.6 L74.6,49.9 L74.6,49.3 L74.6,48.7 L74.6,48.2 L74.6,47.8 L71.2,47.8 L71.2,48.2 L71.2,48.6 L71.1,49.2 L71.1,49.9 L71.1,50.6 L71.1,51.4 L71.1,52.2 L71.1,53.1 L71.1,53.9 L71.2,54.8 L71.2,55.8 L71.2,56.8 L71.3,57.9 L71.3,59.0 L71.4,60.1 L71.6,61.3 L71.8,62.6 L72.0,64.0 L72.3,65.4 L72.5,66.9 L72.8,68.3 L73.1,69.6 L73.3,70.7 L73.4,71.4Z"/><circle cx="72.9" cy="47.8" r="1.70"/><circle cx="75.5" cy="71.0" r="2.12"/>
<path d="M74.2,47.2 L73.9,46.7 L73.4,46.1 L72.9,45.3 L72.3,44.5 L71.7,43.7 L71.2,42.8 L70.6,42.0 L70.1,41.3 L69.7,40.7 L69.3,40.1 L68.9,39.5 L68.6,38.9 L68.2,38.3 L67.8,37.7 L67.4,37.1 L67.0,36.4 L66.5,35.6 L65.9,34.7 L65.3,33.7 L64.7,32.8 L64.0,31.8 L63.5,31.0 L63.0,30.2 L62.7,29.7 L61.1,30.7 L61.4,31.2 L61.8,32.0 L62.3,32.9 L62.9,33.8 L63.4,34.8 L64.0,35.8 L64.5,36.8 L65.0,37.6 L65.4,38.3 L65.8,39.0 L66.1,39.6 L66.4,40.2 L66.8,40.8 L67.1,41.4 L67.5,42.0 L67.9,42.7 L68.3,43.5 L68.8,44.3 L69.4,45.2 L69.9,46.1 L70.5,47.0 L70.9,47.7 L71.3,48.4 L71.6,48.8Z"/><circle cx="61.9" cy="30.2" r="0.94"/><circle cx="72.9" cy="48.0" r="1.53"/>
<path d="M74.3,49.3 L74.5,49.1 L74.7,48.7 L74.9,48.3 L75.3,47.8 L75.6,47.2 L76.0,46.6 L76.3,45.8 L76.7,45.1 L77.0,44.3 L77.4,43.5 L77.7,42.6 L78.1,41.6 L78.4,40.6 L78.8,39.5 L79.1,38.4 L79.4,37.3 L79.6,36.0 L79.8,34.7 L79.9,33.2 L80.1,31.8 L80.2,30.4 L80.3,29.2 L80.4,28.2 L80.4,27.4 L78.6,27.2 L78.5,28.0 L78.3,29.0 L78.2,30.2 L78.0,31.6 L77.8,33.0 L77.5,34.3 L77.3,35.6 L77.0,36.7 L76.7,37.7 L76.4,38.7 L76.0,39.7 L75.7,40.6 L75.3,41.5 L74.9,42.4 L74.5,43.2 L74.1,43.9 L73.8,44.5 L73.5,45.1 L73.1,45.7 L72.8,46.2 L72.5,46.6 L72.2,47.0 L71.9,47.4 L71.7,47.7Z"/><circle cx="79.5" cy="27.3" r="0.94"/><circle cx="73.0" cy="48.5" r="1.53"/>
<path d="M72.2,56.2 L71.8,56.0 L71.2,55.7 L70.6,55.3 L69.8,54.9 L69.0,54.5 L68.1,54.0 L67.3,53.7 L66.4,53.4 L65.6,53.1 L64.8,53.0 L64.0,52.8 L63.2,52.7 L62.4,52.7 L61.6,52.6 L60.9,52.5 L60.2,52.4 L59.5,52.3 L58.7,52.2 L58.0,52.1 L57.3,52.0 L56.6,51.9 L55.9,51.8 L55.3,51.7 L54.8,51.6 L54.3,51.4 L53.9,51.3 L53.5,51.1 L53.1,50.9 L52.7,50.7 L52.3,50.5 L51.9,50.3 L51.4,50.1 L51.0,49.9 L50.5,49.7 L50.0,49.5 L49.6,49.4 L49.2,49.2 L48.8,49.1 L48.5,48.9 L48.3,48.8 L47.5,50.6 L47.8,50.7 L48.1,50.8 L48.5,51.0 L48.9,51.1 L49.3,51.3 L49.7,51.5 L50.2,51.7 L50.6,51.9 L51.0,52.1 L51.3,52.3 L51.7,52.5 L52.1,52.7 L52.6,53.0 L53.1,53.2 L53.6,53.4 L54.2,53.6 L54.8,53.8 L55.5,54.0 L56.2,54.1 L56.9,54.3 L57.6,54.4 L58.4,54.5 L59.1,54.6 L59.8,54.8 L60.6,54.9 L61.3,55.0 L62.1,55.1 L62.8,55.2 L63.6,55.3 L64.3,55.5 L64.9,55.6 L65.6,55.8 L66.2,56.1 L66.9,56.5 L67.7,56.9 L68.4,57.3 L69.1,57.8 L69.8,58.2 L70.4,58.5 L70.8,58.8Z"/><circle cx="47.9" cy="49.7" r="0.94"/><circle cx="71.5" cy="57.5" r="1.44"/>
<path d="M96.1,70.9 L96.1,70.0 L96.0,68.8 L95.9,67.4 L95.8,65.9 L95.7,64.2 L95.6,62.7 L95.6,61.2 L95.5,60.0 L95.5,58.9 L95.4,57.9 L95.4,56.9 L95.4,56.0 L95.4,55.2 L95.4,54.5 L95.4,53.8 L95.4,53.1 L95.4,52.5 L95.4,51.9 L95.5,51.4 L95.6,50.9 L95.6,50.5 L95.7,50.1 L95.7,49.8 L95.8,49.5 L92.4,48.9 L92.4,49.2 L92.3,49.5 L92.2,49.9 L92.1,50.4 L92.1,50.9 L92.0,51.5 L91.9,52.2 L91.8,52.9 L91.8,53.6 L91.8,54.4 L91.7,55.2 L91.7,56.1 L91.7,57.0 L91.7,57.9 L91.7,58.9 L91.7,60.0 L91.7,61.3 L91.7,62.8 L91.7,64.4 L91.8,66.0 L91.8,67.6 L91.8,69.0 L91.9,70.2 L91.9,71.1Z"/><circle cx="94.1" cy="49.2" r="1.70"/><circle cx="94.0" cy="71.0" r="2.12"/>
<path d="M95.4,49.0 L95.2,48.4 L94.9,47.7 L94.6,46.8 L94.2,45.7 L93.8,44.7 L93.3,43.6 L92.8,42.6 L92.3,41.8 L91.7,41.1 L91.1,40.5 L90.5,39.9 L89.9,39.5 L89.2,39.0 L88.6,38.7 L87.9,38.4 L87.1,38.1 L86.3,37.9 L85.4,37.9 L84.5,37.8 L83.6,37.9 L82.8,37.9 L82.0,38.0 L81.4,38.0 L81.0,38.1 L81.0,39.9 L81.5,39.9 L82.1,39.9 L82.9,39.9 L83.6,39.9 L84.5,39.9 L85.2,40.0 L85.9,40.1 L86.5,40.3 L87.0,40.5 L87.5,40.8 L88.0,41.1 L88.5,41.4 L88.9,41.8 L89.4,42.2 L89.8,42.7 L90.1,43.2 L90.5,43.9 L90.8,44.7 L91.2,45.7 L91.5,46.7 L91.8,47.7 L92.1,48.6 L92.4,49.4 L92.6,50.0Z"/><circle cx="81.0" cy="39.0" r="0.94"/><circle cx="94.0" cy="49.5" r="1.53"/>
<path d="M95.7,51.0 L95.9,50.7 L96.3,50.2 L96.7,49.7 L97.2,49.1 L97.6,48.5 L98.1,47.9 L98.6,47.4 L99.0,47.0 L99.3,46.6 L99.7,46.3 L100.0,46.0 L100.4,45.7 L100.8,45.4 L101.2,45.1 L101.7,44.8 L102.2,44.4 L102.7,44.0 L103.2,43.5 L103.7,43.1 L104.3,42.6 L104.8,42.2 L105.4,41.7 L106.0,41.3 L106.6,41.0 L107.2,40.6 L107.9,40.2 L108.7,39.8 L109.5,39.5 L110.2,39.1 L110.9,38.8 L111.5,38.6 L112.0,38.4 L111.2,36.6 L110.8,36.8 L110.2,37.0 L109.5,37.3 L108.7,37.6 L107.9,37.9 L107.0,38.3 L106.2,38.7 L105.4,39.0 L104.8,39.4 L104.1,39.9 L103.5,40.3 L102.8,40.8 L102.2,41.2 L101.7,41.6 L101.1,42.0 L100.6,42.4 L100.2,42.7 L99.7,43.0 L99.3,43.3 L98.9,43.6 L98.4,43.9 L98.0,44.2 L97.5,44.6 L97.0,45.0 L96.5,45.5 L96.0,46.0 L95.5,46.6 L94.9,47.2 L94.4,47.8 L94.0,48.3 L93.6,48.7 L93.3,49.0Z"/><circle cx="111.6" cy="37.5" r="0.94"/><circle cx="94.5" cy="50.0" r="1.53"/>
<path d="M72.3,77.4 L71.9,77.3 L71.3,77.3 L70.7,77.2 L69.9,77.1 L69.1,77.0 L68.2,76.9 L67.2,76.9 L66.1,76.8 L65.0,76.8 L63.9,76.7 L62.6,76.6 L61.2,76.6 L59.8,76.6 L58.2,76.6 L56.7,76.7 L55.1,76.9 L53.5,77.1 L51.8,77.4 L50.0,77.8 L48.3,78.2 L46.5,78.7 L44.7,79.2 L43.0,79.8 L41.3,80.3 L39.7,81.0 L38.1,81.7 L36.5,82.4 L35.0,83.2 L33.5,84.0 L32.1,84.7 L30.7,85.5 L29.5,86.2 L28.2,86.9 L27.1,87.6 L25.9,88.4 L24.9,89.1 L24.0,89.8 L23.1,90.4 L22.4,90.8 L21.9,91.2 L22.9,92.8 L23.5,92.4 L24.2,92.0 L25.1,91.4 L26.0,90.8 L27.1,90.1 L28.2,89.5 L29.3,88.8 L30.5,88.2 L31.8,87.6 L33.2,86.9 L34.6,86.2 L36.1,85.5 L37.6,84.8 L39.2,84.2 L40.7,83.6 L42.3,83.1 L43.9,82.6 L45.5,82.1 L47.2,81.7 L49.0,81.3 L50.7,81.0 L52.4,80.7 L54.0,80.5 L55.5,80.3 L56.9,80.2 L58.3,80.2 L59.7,80.3 L61.0,80.3 L62.3,80.4 L63.6,80.6 L64.8,80.7 L65.9,80.8 L66.9,80.9 L67.8,81.0 L68.6,81.1 L69.4,81.2 L70.1,81.3 L70.7,81.4 L71.3,81.5 L71.7,81.6Z"/><circle cx="22.4" cy="92.0" r="0.94"/><circle cx="72.0" cy="79.5" r="2.12"/>
<path d="M55.2,78.7 L55.0,78.5 L54.8,78.1 L54.6,77.8 L54.3,77.4 L54.0,77.0 L53.7,76.5 L53.5,76.0 L53.2,75.4 L52.9,74.6 L52.5,73.8 L52.2,72.8 L51.9,71.7 L51.5,70.6 L51.1,69.5 L50.7,68.4 L50.3,67.4 L49.9,66.4 L49.6,65.4 L49.2,64.4 L48.8,63.4 L48.3,62.5 L47.8,61.6 L47.3,60.7 L46.7,59.9 L45.9,59.2 L45.1,58.7 L44.2,58.2 L43.4,57.8 L42.6,57.5 L41.8,57.3 L41.3,57.1 L40.9,56.9 L40.1,58.7 L40.6,58.9 L41.2,59.1 L41.9,59.4 L42.6,59.7 L43.3,60.0 L44.0,60.4 L44.6,60.8 L45.1,61.3 L45.5,61.9 L45.9,62.6 L46.3,63.4 L46.7,64.3 L47.0,65.2 L47.4,66.2 L47.7,67.2 L48.1,68.2 L48.4,69.2 L48.7,70.3 L49.1,71.3 L49.4,72.5 L49.7,73.5 L50.0,74.6 L50.3,75.6 L50.6,76.4 L51.0,77.2 L51.3,77.9 L51.6,78.5 L51.9,79.0 L52.2,79.4 L52.5,79.8 L52.6,80.1 L52.8,80.3Z"/><circle cx="40.5" cy="57.8" r="0.94"/><circle cx="54.0" cy="79.5" r="1.44"/>
<path d="M42.5,80.5 L42.3,80.0 L42.0,79.4 L41.7,78.6 L41.3,77.6 L40.9,76.7 L40.5,75.7 L40.0,74.8 L39.5,74.1 L38.9,73.4 L38.3,72.8 L37.7,72.3 L37.0,71.7 L36.3,71.3 L35.6,70.9 L34.7,70.7 L33.9,70.5 L32.9,70.6 L31.9,70.8 L31.0,71.2 L30.1,71.6 L29.2,72.1 L28.5,72.5 L27.9,72.8 L27.4,73.0 L28.2,74.8 L28.7,74.5 L29.4,74.2 L30.1,73.8 L30.9,73.5 L31.8,73.1 L32.6,72.8 L33.2,72.7 L33.7,72.7 L34.2,72.8 L34.7,73.0 L35.2,73.2 L35.7,73.6 L36.2,74.0 L36.7,74.5 L37.1,75.0 L37.5,75.5 L37.9,76.1 L38.3,76.8 L38.6,77.7 L38.9,78.6 L39.2,79.4 L39.5,80.3 L39.7,81.0 L39.9,81.5Z"/><circle cx="27.8" cy="73.9" r="0.94"/><circle cx="41.2" cy="81.0" r="1.36"/>
<path d="M64.1,99.8 L63.2,99.8 L61.9,99.7 L60.4,99.6 L58.7,99.6 L57.0,99.5 L55.2,99.4 L53.5,99.4 L52.0,99.4 L50.7,99.4 L49.3,99.4 L47.9,99.4 L46.6,99.4 L45.3,99.5 L44.1,99.6 L42.9,99.7 L41.8,99.8 L40.9,100.0 L40.0,100.2 L39.2,100.4 L38.4,100.7 L37.7,101.0 L37.0,101.3 L36.4,101.7 L35.8,102.2 L35.2,102.8 L34.7,103.5 L34.3,104.2 L34.0,105.0 L33.7,105.7 L33.5,106.3 L33.3,106.8 L33.2,107.1 L34.8,107.9 L35.0,107.5 L35.3,107.0 L35.5,106.4 L35.8,105.8 L36.1,105.2 L36.5,104.6 L36.8,104.1 L37.2,103.8 L37.6,103.5 L38.1,103.2 L38.6,103.0 L39.2,102.8 L39.8,102.6 L40.5,102.4 L41.3,102.3 L42.2,102.2 L43.1,102.1 L44.2,102.0 L45.4,102.0 L46.6,102.0 L47.9,102.1 L49.2,102.1 L50.6,102.2 L52.0,102.2 L53.4,102.3 L55.1,102.4 L56.8,102.6 L58.5,102.7 L60.2,102.9 L61.7,103.0 L62.9,103.1 L63.9,103.2Z"/><circle cx="34.0" cy="107.5" r="0.94"/><circle cx="64.0" cy="101.5" r="1.70"/>
<path d="M35.0,110.3 L35.4,110.5 L35.8,110.9 L36.4,111.3 L37.1,111.8 L37.8,112.4 L38.7,112.9 L39.6,113.3 L40.7,113.7 L41.8,114.1 L43.1,114.4 L44.5,114.6 L45.9,114.8 L47.3,115.0 L48.7,115.2 L49.9,115.4 L50.8,115.5 L51.7,115.7 L52.4,115.7 L53.0,115.8 L53.6,115.9 L54.0,115.9 L54.4,115.9 L54.7,115.9 L54.9,115.9 L55.1,113.1 L54.8,113.0 L54.5,113.0 L54.1,113.0 L53.7,113.0 L53.2,113.0 L52.6,113.0 L52.0,112.9 L51.2,112.9 L50.2,112.8 L49.0,112.7 L47.6,112.6 L46.2,112.4 L44.9,112.3 L43.5,112.1 L42.3,111.9 L41.3,111.7 L40.5,111.4 L39.7,111.0 L38.9,110.6 L38.2,110.2 L37.5,109.7 L37.0,109.3 L36.4,109.0 L36.0,108.7Z"/><circle cx="55.0" cy="114.5" r="1.44"/><circle cx="35.5" cy="109.5" r="0.94"/>
<path d="M63.6,101.6 L63.1,102.1 L62.4,102.8 L61.6,103.7 L60.7,104.6 L59.8,105.6 L58.8,106.5 L58.0,107.5 L57.2,108.4 L56.6,109.1 L56.0,109.8 L55.6,110.5 L55.1,111.2 L54.7,111.8 L54.2,112.5 L53.7,113.2 L53.1,114.0 L52.4,114.9 L51.6,115.9 L50.7,117.0 L49.8,118.1 L48.8,119.2 L47.9,120.4 L46.9,121.7 L46.0,122.9 L45.0,124.3 L44.0,125.9 L43.0,127.5 L41.9,129.1 L41.0,130.7 L40.1,132.1 L39.4,133.3 L38.8,134.2 L40.4,135.2 L41.0,134.4 L41.8,133.2 L42.7,131.8 L43.7,130.3 L44.8,128.8 L46.0,127.2 L47.0,125.7 L48.0,124.5 L49.0,123.3 L49.9,122.1 L50.9,121.0 L51.9,119.9 L52.9,118.9 L53.8,117.9 L54.7,116.9 L55.5,116.0 L56.2,115.1 L56.8,114.4 L57.3,113.7 L57.8,113.1 L58.2,112.5 L58.7,111.9 L59.2,111.3 L59.8,110.6 L60.5,109.9 L61.4,109.0 L62.3,108.1 L63.3,107.2 L64.2,106.4 L65.1,105.6 L65.8,104.9 L66.4,104.4Z"/><circle cx="39.6" cy="134.7" r="0.94"/><circle cx="65.0" cy="103.0" r="1.95"/>
<path d="M54.4,117.8 L54.3,118.5 L54.2,119.3 L54.1,120.3 L54.0,121.5 L53.8,122.6 L53.7,123.8 L53.5,124.8 L53.4,125.7 L53.2,126.6 L53.0,127.3 L52.7,128.1 L52.5,128.9 L52.2,129.6 L52.0,130.3 L51.7,131.0 L51.5,131.7 L51.3,132.3 L51.2,133.0 L51.0,133.6 L50.9,134.1 L50.8,134.6 L50.7,135.1 L50.6,135.5 L50.5,135.8 L52.3,136.2 L52.4,135.9 L52.5,135.6 L52.6,135.1 L52.8,134.6 L52.9,134.1 L53.1,133.5 L53.3,132.9 L53.5,132.3 L53.7,131.7 L54.0,131.1 L54.2,130.4 L54.5,129.6 L54.8,128.8 L55.1,128.0 L55.4,127.2 L55.6,126.3 L55.9,125.3 L56.1,124.1 L56.3,123.0 L56.5,121.8 L56.7,120.7 L56.8,119.7 L56.9,118.8 L57.0,118.2Z"/><circle cx="51.4" cy="136.0" r="0.94"/><circle cx="55.7" cy="118.0" r="1.36"/>
<path d="M73.8,113.9 L73.8,114.4 L73.7,115.0 L73.7,115.8 L73.7,116.6 L73.7,117.4 L73.7,118.2 L73.7,119.0 L73.6,119.8 L73.5,120.5 L73.4,121.3 L73.3,122.0 L73.2,122.8 L73.1,123.5 L72.9,124.3 L72.8,124.9 L72.7,125.6 L72.5,126.1 L72.4,126.7 L72.2,127.2 L72.0,127.8 L71.8,128.3 L71.7,128.7 L71.5,129.1 L71.4,129.4 L74.6,130.6 L74.7,130.3 L74.9,130.0 L75.0,129.5 L75.3,129.0 L75.5,128.4 L75.7,127.8 L75.9,127.1 L76.1,126.4 L76.3,125.8 L76.5,125.0 L76.7,124.3 L76.8,123.5 L77.0,122.7 L77.1,121.8 L77.3,121.0 L77.4,120.2 L77.5,119.4 L77.6,118.5 L77.6,117.6 L77.7,116.7 L77.7,115.9 L77.8,115.1 L77.8,114.5 L77.8,114.1Z"/><circle cx="73.0" cy="130.0" r="1.70"/><circle cx="75.8" cy="114.0" r="2.04"/>
<path d="M71.6,129.3 L71.3,129.9 L70.9,130.7 L70.5,131.7 L69.9,132.8 L69.4,134.0 L68.8,135.2 L68.3,136.4 L67.9,137.5 L67.5,138.7 L67.1,140.0 L66.7,141.3 L66.4,142.6 L66.1,143.8 L65.8,144.9 L65.6,145.8 L65.4,146.4 L67.2,147.0 L67.4,146.3 L67.7,145.4 L68.0,144.3 L68.4,143.1 L68.8,141.9 L69.3,140.7 L69.7,139.5 L70.1,138.5 L70.6,137.4 L71.2,136.3 L71.8,135.2 L72.4,134.1 L73.0,133.1 L73.6,132.1 L74.0,131.3 L74.4,130.7Z"/><circle cx="66.3" cy="146.7" r="0.94"/><circle cx="73.0" cy="130.0" r="1.53"/>
<path d="M72.5,131.5 L72.9,131.9 L73.4,132.4 L74.1,133.0 L74.8,133.6 L75.5,134.3 L76.2,134.9 L76.9,135.6 L77.5,136.2 L78.0,136.7 L78.5,137.2 L78.9,137.8 L79.4,138.3 L79.8,138.8 L80.2,139.3 L80.6,139.9 L81.0,140.6 L81.5,141.3 L81.9,142.2 L82.4,143.1 L82.8,144.1 L83.3,145.0 L83.7,145.8 L84.0,146.5 L84.2,147.1 L86.0,146.3 L85.7,145.8 L85.4,145.1 L85.1,144.2 L84.7,143.2 L84.3,142.2 L83.8,141.2 L83.4,140.3 L83.0,139.4 L82.5,138.7 L82.1,138.0 L81.7,137.4 L81.3,136.8 L80.8,136.2 L80.3,135.6 L79.9,135.0 L79.3,134.4 L78.8,133.8 L78.1,133.1 L77.4,132.3 L76.7,131.6 L76.0,130.9 L75.4,130.3 L74.9,129.8 L74.5,129.5Z"/><circle cx="85.1" cy="146.7" r="0.94"/><circle cx="73.5" cy="130.5" r="1.44"/>
<path d="M95.9,115.8 L95.8,116.4 L95.8,117.3 L95.7,118.4 L95.6,119.5 L95.5,120.7 L95.4,121.8 L95.3,122.8 L95.2,123.6 L95.1,124.2 L94.9,124.8 L94.8,125.3 L94.6,125.8 L94.4,126.2 L94.2,126.6 L94.1,127.0 L93.9,127.3 L97.1,128.7 L97.2,128.4 L97.3,128.1 L97.6,127.7 L97.8,127.2 L98.1,126.6 L98.3,125.9 L98.6,125.2 L98.8,124.4 L99.0,123.4 L99.2,122.4 L99.4,121.2 L99.6,120.0 L99.7,118.8 L99.9,117.7 L100.0,116.9 L100.1,116.2Z"/><circle cx="95.5" cy="128.0" r="1.70"/><circle cx="98.0" cy="116.0" r="2.12"/>
<path d="M94.2,127.3 L94.0,127.8 L93.7,128.4 L93.3,129.2 L92.9,130.1 L92.5,131.0 L92.1,131.9 L91.7,132.8 L91.4,133.6 L91.2,134.4 L91.0,135.2 L90.8,136.0 L90.7,136.8 L90.5,137.5 L90.4,138.2 L90.4,138.7 L90.3,139.1 L92.1,139.5 L92.2,139.1 L92.4,138.6 L92.5,137.9 L92.7,137.2 L92.9,136.5 L93.1,135.8 L93.3,135.1 L93.6,134.4 L93.9,133.7 L94.3,132.9 L94.8,132.1 L95.2,131.3 L95.7,130.5 L96.1,129.8 L96.5,129.1 L96.8,128.7Z"/><circle cx="91.2" cy="139.3" r="0.94"/><circle cx="95.5" cy="128.0" r="1.44"/>
<path d="M94.6,128.3 L94.7,128.9 L94.9,129.7 L95.2,130.7 L95.4,131.8 L95.7,133.0 L95.9,134.1 L96.2,135.2 L96.3,136.1 L96.5,137.1 L96.6,138.0 L96.7,139.0 L96.8,139.9 L96.8,140.8 L96.9,141.6 L96.9,142.2 L97.0,142.7 L98.8,142.7 L98.8,142.2 L98.8,141.5 L98.8,140.7 L98.8,139.8 L98.8,138.8 L98.8,137.8 L98.7,136.8 L98.7,135.9 L98.5,134.8 L98.4,133.7 L98.2,132.5 L98.0,131.3 L97.8,130.2 L97.7,129.2 L97.5,128.3 L97.4,127.7Z"/><circle cx="97.9" cy="142.7" r="0.94"/><circle cx="96.0" cy="128.0" r="1.44"/>
<path d="M98.2,119.7 L98.4,120.2 L98.8,120.8 L99.2,121.6 L99.7,122.5 L100.2,123.4 L100.7,124.3 L101.3,125.1 L102.0,125.9 L102.6,126.5 L103.3,127.1 L104.0,127.6 L104.7,128.1 L105.4,128.5 L106.1,128.9 L106.7,129.3 L107.3,129.6 L108.0,130.0 L108.6,130.4 L109.2,130.8 L109.9,131.1 L110.5,131.5 L111.2,131.8 L111.8,132.1 L112.5,132.5 L113.3,132.8 L114.1,133.1 L114.9,133.5 L115.8,133.8 L116.6,134.1 L117.3,134.4 L117.9,134.6 L118.3,134.8 L119.1,133.0 L118.6,132.8 L118.0,132.6 L117.3,132.3 L116.5,132.0 L115.7,131.6 L114.9,131.2 L114.2,130.9 L113.5,130.5 L112.8,130.2 L112.2,129.8 L111.6,129.5 L111.0,129.1 L110.4,128.8 L109.9,128.4 L109.3,128.0 L108.7,127.6 L108.0,127.1 L107.4,126.7 L106.7,126.3 L106.1,125.9 L105.5,125.5 L105.0,125.1 L104.5,124.6 L104.0,124.1 L103.6,123.5 L103.1,122.8 L102.7,122.0 L102.2,121.1 L101.8,120.2 L101.4,119.5 L101.1,118.8 L100.8,118.3Z"/><circle cx="118.7" cy="133.9" r="0.94"/><circle cx="99.5" cy="119.0" r="1.53"/>
<path d="M99.9,88.0 L100.7,88.1 L101.6,88.1 L102.6,88.2 L103.9,88.3 L105.5,88.3 L107.5,88.4 L110.0,88.5 L113.0,88.5 L116.6,88.6 L120.9,88.6 L125.8,88.6 L130.9,88.6 L136.3,88.6 L141.7,88.6 L147.0,88.7 L151.9,88.8 L156.7,88.9 L161.5,89.0 L166.4,89.2 L171.1,89.4 L175.9,89.6 L180.7,89.8 L185.4,89.9 L190.0,89.9 L194.6,89.8 L199.2,89.7 L203.8,89.5 L208.3,89.3 L212.7,89.0 L217.0,88.8 L221.1,88.5 L225.1,88.3 L229.0,88.2 L233.0,88.0 L237.0,87.8 L240.8,87.6 L244.3,87.5 L247.4,87.3 L250.1,87.2 L252.1,87.1 L251.9,82.5 L249.9,82.6 L247.2,82.7 L244.1,82.8 L240.6,83.0 L236.8,83.2 L232.8,83.3 L228.8,83.5 L224.9,83.7 L220.9,83.8 L216.8,84.1 L212.5,84.3 L208.1,84.5 L203.6,84.7 L199.1,84.9 L194.5,85.0 L190.0,85.1 L185.4,85.1 L180.8,85.0 L176.1,84.8 L171.4,84.6 L166.6,84.4 L161.7,84.2 L156.9,84.0 L152.1,83.8 L147.0,83.7 L141.7,83.7 L136.3,83.6 L130.9,83.6 L125.8,83.6 L121.0,83.6 L116.7,83.5 L113.0,83.5 L110.1,83.4 L107.7,83.3 L105.8,83.3 L104.2,83.2 L102.9,83.1 L101.9,83.1 L101.0,83.0 L100.1,83.0Z"/><circle cx="252.0" cy="84.8" r="2.29"/><circle cx="100.0" cy="85.5" r="2.55"/>
<path d="M250.5,86.6 L251.0,86.1 L251.7,85.5 L252.6,84.8 L253.5,84.0 L254.5,83.1 L255.5,82.3 L256.5,81.4 L257.4,80.6 L258.3,79.8 L259.1,79.1 L259.9,78.3 L260.7,77.5 L261.5,76.7 L262.3,76.0 L263.1,75.2 L263.9,74.5 L264.8,73.8 L265.7,73.0 L266.6,72.2 L267.5,71.4 L268.4,70.6 L269.2,69.9 L269.9,69.4 L270.4,68.9 L268.0,66.1 L267.5,66.5 L266.8,67.0 L266.0,67.7 L265.1,68.4 L264.1,69.2 L263.1,70.0 L262.2,70.7 L261.3,71.5 L260.4,72.2 L259.6,73.0 L258.7,73.7 L257.9,74.5 L257.1,75.2 L256.3,75.9 L255.4,76.7 L254.6,77.4 L253.7,78.1 L252.7,78.9 L251.7,79.7 L250.7,80.6 L249.7,81.3 L248.8,82.0 L248.1,82.6 L247.5,83.0Z"/><circle cx="269.2" cy="67.5" r="1.87"/><circle cx="249.0" cy="84.8" r="2.29"/>
<path d="M270.7,68.5 L270.8,68.1 L270.9,67.6 L271.1,67.0 L271.3,66.3 L271.4,65.7 L271.6,64.9 L271.8,64.2 L272.1,63.5 L272.3,62.8 L272.5,62.1 L272.8,61.4 L273.0,60.7 L273.3,59.9 L273.6,59.2 L273.9,58.5 L274.3,57.8 L274.7,57.0 L275.3,56.1 L276.0,55.2 L276.7,54.2 L277.4,53.3 L278.1,52.5 L278.6,51.8 L279.0,51.3 L277.0,49.7 L276.6,50.2 L276.0,50.8 L275.3,51.6 L274.6,52.5 L273.8,53.5 L273.0,54.4 L272.3,55.3 L271.7,56.2 L271.2,57.1 L270.8,57.9 L270.4,58.7 L270.1,59.5 L269.8,60.3 L269.5,61.1 L269.2,61.8 L268.9,62.5 L268.7,63.2 L268.4,63.9 L268.2,64.7 L267.9,65.4 L267.7,66.1 L267.5,66.7 L267.4,67.1 L267.3,67.5Z"/><circle cx="278.0" cy="50.5" r="1.27"/><circle cx="269.0" cy="68.0" r="1.78"/>
<path d="M269.2,68.7 L269.0,68.2 L268.9,67.6 L268.7,66.8 L268.5,66.0 L268.3,65.2 L268.1,64.3 L267.9,63.5 L267.8,62.8 L267.6,62.1 L267.5,61.4 L267.5,60.6 L267.4,59.8 L267.3,59.1 L267.3,58.5 L267.2,57.9 L267.2,57.5 L264.6,57.7 L264.6,58.1 L264.6,58.6 L264.7,59.3 L264.7,60.0 L264.7,60.8 L264.7,61.6 L264.8,62.4 L264.8,63.2 L264.9,64.0 L265.1,64.9 L265.2,65.8 L265.4,66.7 L265.5,67.5 L265.6,68.3 L265.8,68.9 L265.8,69.3Z"/><circle cx="265.9" cy="57.6" r="1.27"/><circle cx="267.5" cy="69.0" r="1.70"/>
<path d="M269.3,69.3 L269.9,69.2 L270.6,69.0 L271.5,68.8 L272.4,68.6 L273.4,68.5 L274.3,68.3 L275.2,68.2 L276.0,68.2 L276.8,68.2 L277.5,68.2 L278.3,68.2 L278.9,68.3 L279.6,68.4 L280.3,68.5 L281.1,68.7 L281.8,69.0 L282.6,69.3 L283.5,69.7 L284.5,70.2 L285.4,70.7 L286.4,71.3 L287.3,71.9 L288.3,72.6 L289.2,73.2 L290.1,73.8 L291.0,74.5 L292.0,75.2 L292.9,76.0 L293.8,76.7 L294.6,77.4 L295.3,78.0 L295.8,78.4 L297.4,76.4 L296.9,76.0 L296.3,75.4 L295.5,74.7 L294.6,74.0 L293.7,73.2 L292.7,72.3 L291.8,71.6 L290.8,70.8 L289.9,70.2 L288.9,69.5 L288.0,68.9 L287.0,68.2 L286.0,67.6 L285.0,67.0 L284.0,66.5 L283.0,66.0 L282.0,65.7 L281.1,65.4 L280.2,65.2 L279.4,65.1 L278.5,65.0 L277.7,64.9 L276.8,64.9 L276.0,64.8 L275.0,64.9 L273.9,64.9 L272.9,65.1 L271.8,65.2 L270.8,65.4 L269.9,65.5 L269.2,65.7 L268.7,65.7Z"/><circle cx="296.6" cy="77.4" r="1.27"/><circle cx="269.0" cy="67.5" r="1.78"/>
<path d="M262.5,74.8 L262.9,74.8 L263.5,74.8 L264.1,74.8 L264.8,74.9 L265.6,74.9 L266.3,75.0 L267.0,75.1 L267.7,75.2 L268.4,75.3 L269.0,75.4 L269.7,75.5 L270.4,75.7 L271.0,75.9 L271.6,76.1 L272.3,76.3 L272.9,76.6 L273.5,76.9 L274.1,77.3 L274.8,77.7 L275.4,78.2 L276.1,78.7 L276.7,79.3 L277.3,79.8 L277.9,80.4 L278.5,81.1 L279.2,82.0 L279.8,82.9 L280.5,83.8 L281.1,84.8 L281.6,85.6 L282.1,86.3 L282.4,86.9 L284.6,85.5 L284.3,85.0 L283.8,84.3 L283.3,83.4 L282.7,82.4 L282.1,81.4 L281.4,80.4 L280.8,79.4 L280.1,78.6 L279.4,77.8 L278.7,77.1 L278.0,76.5 L277.3,75.9 L276.6,75.3 L275.8,74.8 L275.1,74.3 L274.3,73.8 L273.6,73.4 L272.8,73.1 L272.0,72.8 L271.2,72.5 L270.5,72.3 L269.7,72.2 L269.0,72.0 L268.3,71.8 L267.5,71.7 L266.7,71.6 L265.9,71.5 L265.1,71.4 L264.3,71.3 L263.7,71.3 L263.1,71.3 L262.7,71.2Z"/><circle cx="283.5" cy="86.2" r="1.27"/><circle cx="262.6" cy="73.0" r="1.78"/>
<path d="M247.7,86.7 L248.2,87.0 L248.9,87.5 L249.7,88.0 L250.6,88.5 L251.4,89.1 L252.3,89.7 L253.0,90.2 L253.6,90.6 L254.1,91.0 L254.5,91.4 L254.8,91.7 L255.1,92.0 L255.4,92.4 L255.7,92.8 L256.1,93.3 L256.5,93.9 L257.1,94.6 L257.7,95.4 L258.3,96.3 L259.0,97.3 L259.6,98.2 L260.2,99.1 L260.7,99.8 L261.0,100.3 L264.2,98.3 L263.8,97.7 L263.4,97.0 L262.8,96.1 L262.2,95.2 L261.6,94.2 L261.0,93.2 L260.4,92.3 L259.9,91.5 L259.4,90.9 L259.0,90.4 L258.7,89.9 L258.3,89.4 L257.9,88.9 L257.5,88.4 L257.0,87.9 L256.4,87.4 L255.7,86.8 L254.8,86.1 L253.9,85.5 L253.0,84.8 L252.2,84.2 L251.4,83.7 L250.8,83.2 L250.3,82.9Z"/><circle cx="262.6" cy="99.3" r="1.87"/><circle cx="249.0" cy="84.8" r="2.29"/>
<path d="M262.5,100.3 L263.1,100.3 L263.8,100.3 L264.7,100.4 L265.7,100.4 L266.8,100.5 L267.9,100.5 L269.0,100.5 L270.1,100.5 L271.1,100.4 L272.1,100.3 L273.1,100.2 L274.1,100.1 L275.2,99.9 L276.3,99.8 L277.3,99.6 L278.4,99.3 L279.4,99.0 L280.4,98.7 L281.4,98.4 L282.4,98.0 L283.4,97.6 L284.4,97.2 L285.5,96.8 L286.6,96.3 L287.8,95.8 L289.1,95.1 L290.5,94.5 L291.8,93.8 L293.1,93.1 L294.3,92.5 L295.3,92.0 L296.1,91.6 L294.9,89.4 L294.2,89.7 L293.2,90.2 L292.0,90.7 L290.7,91.4 L289.3,92.0 L287.9,92.6 L286.6,93.2 L285.4,93.7 L284.4,94.1 L283.4,94.5 L282.4,94.9 L281.4,95.2 L280.5,95.5 L279.5,95.8 L278.6,96.1 L277.6,96.3 L276.7,96.5 L275.7,96.6 L274.7,96.8 L273.8,96.9 L272.8,97.0 L271.8,97.0 L270.9,97.1 L269.9,97.1 L269.0,97.1 L268.0,97.1 L266.9,97.0 L265.9,97.0 L264.9,96.9 L264.0,96.8 L263.3,96.8 L262.7,96.7Z"/><circle cx="295.5" cy="90.5" r="1.27"/><circle cx="262.6" cy="98.5" r="1.78"/>
<path d="M260.8,99.1 L260.9,99.9 L260.9,101.0 L261.0,102.4 L261.1,103.9 L261.2,105.5 L261.3,107.1 L261.4,108.7 L261.5,110.1 L261.6,111.5 L261.7,112.9 L261.9,114.4 L262.0,115.9 L262.1,117.3 L262.3,118.5 L262.4,119.5 L262.4,120.3 L265.0,120.1 L264.9,119.3 L264.9,118.3 L264.8,117.1 L264.8,115.7 L264.7,114.2 L264.6,112.8 L264.6,111.3 L264.5,109.9 L264.5,108.5 L264.5,107.0 L264.4,105.4 L264.4,103.8 L264.4,102.3 L264.4,100.9 L264.4,99.8 L264.4,98.9Z"/><circle cx="263.7" cy="120.2" r="1.27"/><circle cx="262.6" cy="99.0" r="1.78"/>
<path d="M261.6,100.6 L262.0,101.1 L262.5,101.7 L263.1,102.5 L263.8,103.4 L264.5,104.3 L265.3,105.3 L266.0,106.2 L266.7,107.0 L267.4,107.8 L268.0,108.6 L268.7,109.3 L269.3,110.0 L270.0,110.7 L270.7,111.5 L271.5,112.4 L272.4,113.5 L273.5,114.8 L274.9,116.3 L276.3,118.1 L277.8,119.8 L279.3,121.6 L280.6,123.1 L281.7,124.4 L282.5,125.4 L284.5,123.8 L283.7,122.8 L282.6,121.5 L281.4,119.8 L280.0,118.1 L278.5,116.3 L277.1,114.5 L275.9,112.9 L274.8,111.5 L273.9,110.4 L273.1,109.5 L272.3,108.6 L271.7,107.8 L271.1,107.1 L270.5,106.4 L269.9,105.7 L269.3,105.0 L268.6,104.1 L267.9,103.2 L267.2,102.2 L266.5,101.3 L265.9,100.4 L265.3,99.6 L264.8,98.9 L264.4,98.4Z"/><circle cx="283.5" cy="124.6" r="1.27"/><circle cx="263.0" cy="99.5" r="1.78"/>
<circle cx="265.9" cy="57.6" r="2.4"/><circle cx="278" cy="50.5" r="2.4"/><circle cx="296.6" cy="77.4" r="2.4"/><circle cx="283.5" cy="86.2" r="2.4"/><circle cx="295.5" cy="90.5" r="2.4"/><circle cx="263.7" cy="120.2" r="2.4"/><circle cx="283.5" cy="124.6" r="2.4"/>
</g>
<circle cx="85.4" cy="89.2" r="6.6" fill="#bf7bb7" stroke="#a862a4" stroke-width="0.6"/><circle cx="85.5" cy="89.3" r="3.8" fill="#b670b1" opacity="0.6"/><circle cx="85.6" cy="89.4" r="2" fill="#5a2b6c"/>
</g><!--/neuron-->

<text x="143.2" y="70.9" font-size="17" fill="#1c396c" stroke="#1c396c" stroke-width="0.3">Neuron</text>

<!-- left panel -->
<rect x="62.2" y="218.3" width="33.4" height="69" rx="16.7" fill="#f9dfe0" stroke="#9e3a48" stroke-width="2.3"/>
<text transform="translate(85.2,273) rotate(-90)" font-size="14" fill="#1a1a1a" stroke="#1a1a1a" stroke-width="0.3">FLR-4</text>
<line x1="97.5" y1="253" x2="137" y2="253" stroke="#1a1a1a" stroke-width="3" stroke-dasharray="2.6,2.1"/>
<rect x="137.5" y="242" width="4" height="22.5" fill="#1f1f1f"/>
<g stroke="#d62c2b" stroke-width="3.2" stroke-linecap="butt">
  <line x1="106.8" y1="246.6" x2="118.3" y2="259.8"/>
  <line x1="118.3" y1="246.6" x2="106.8" y2="259.8"/>
</g>

<!-- cycle arcs -->
<path d="M174,301 C140.5,276 141.5,220 182,200" fill="none" stroke="url(#arcg)" stroke-width="1.9"/>
<text x="195.05" y="201.65" font-size="14.24" textLength="23.80" lengthAdjust="spacingAndGlyphs" fill="#1c396c" stroke="#1c396c" stroke-width="0.3">Met</text>
<text x="250.95" y="238.55" font-size="14.24" textLength="31.20" lengthAdjust="spacingAndGlyphs" fill="#1c396c" stroke="#1c396c" stroke-width="0.3">SAM</text>
<text x="251.05" y="293.85" font-size="14.53" textLength="28.60" lengthAdjust="spacingAndGlyphs" fill="#1c396c" stroke="#1c396c" stroke-width="0.3">SAH</text>
<text x="183.85" y="314.55" font-size="14.24" textLength="25.19" lengthAdjust="spacingAndGlyphs" fill="#1c396c" stroke="#1c396c" stroke-width="0.3">HCy</text>
<text x="155" y="244.5" font-size="14" font-style="italic" fill="#c0272d" stroke="#c0272d" stroke-width="0.3">metr-1</text>
<rect x="155.8" y="255" width="31.4" height="23" rx="11" fill="#c63e40" stroke="#8a1c24" stroke-width="2"/>
<text x="171.5" y="271" font-size="13" fill="#fff" text-anchor="middle" stroke="#fff" stroke-width="0.3">B12</text>
<text x="156.3" y="343.2" font-size="14.28" fill="#1a1a1a" stroke="#1a1a1a" stroke-width="0.3">Methionine cycle</text>

<g fill="none" stroke="#222" stroke-width="2">
  <path d="M225,196 C236,197.5 246,203 254,211"/>
  <path d="M269.5,243 C271.5,252 271,260 268.5,269"/>
  <path d="M250,297.5 C242,303 234,307 223,310"/>
</g>
<g fill="#222">
  <polygon points="187.5,198 176.3,197.2 180.5,206.6"/>
  <polygon points="259.4,218.5 249.3,214 257,207.8"/>
  <polygon points="265.2,277.6 263.4,266.6 273.1,270.3"/>
  <polygon points="216.5,311.1 225.4,305.8 226.2,315"/>
</g>

<!-- serotonin -->
<path d="M293.5,246.5 C302,238 312,231 323.5,226.5" fill="none" stroke="#2a2a2a" stroke-width="1.8"/>
<path d="M399,228.5 C405,231 411,235 418.5,241" fill="none" stroke="#222" stroke-width="1.9"/>
<polygon points="425,246.2 420.8,236.8 415,243.6" fill="#1c1c1c"/>
<rect x="324" y="210.5" width="75" height="27" rx="11" fill="#f1ddf5" stroke="#9a64a8" stroke-width="1.8"/>
<text x="330.5" y="228.1" font-size="13.28" fill="#1a1a1a" stroke="#1a1a1a" stroke-width="0.3">Serotonin</text>

<!-- beige content -->
<text x="441.25" y="235.15" font-size="14.24" textLength="73.10" lengthAdjust="spacingAndGlyphs" fill="#2b7bc1" stroke="#2b7bc1" stroke-width="0.3">PMK-1/p38</text>
<text x="556.65" y="233.65" font-size="14.97" textLength="40.40" lengthAdjust="spacingAndGlyphs" fill="#1c396c" stroke="#1c396c" stroke-width="0.3">SEK-1</text>
<text x="640.15" y="233.35" font-size="14.39" textLength="38.50" lengthAdjust="spacingAndGlyphs" fill="#1c396c" stroke="#1c396c" stroke-width="0.3">NSY-1</text>
<text x="718.85" y="234.45" font-size="15.12" textLength="33.10" lengthAdjust="spacingAndGlyphs" fill="#1c396c" stroke="#1c396c" stroke-width="0.3">TIR-1</text>
<g>
  <rect x="522" y="228.2" width="29" height="1.7" fill="url(#fadeL)"/>
  <polygon points="515.8,229 523.8,225 523.8,233" fill="#1e1e1e"/>
  <rect x="607" y="228.2" width="28" height="1.7" fill="url(#fadeL)"/>
  <polygon points="600.8,229 608.8,225 608.8,233" fill="#1e1e1e"/>
  <rect x="688" y="228" width="28" height="1.7" fill="url(#fadeL)"/>
  <polygon points="681.2,228.8 689.2,224.8 689.2,232.8" fill="#1e1e1e"/>
</g>
<path d="M481,240.5 V251.8 H682.2 V240.5" fill="none" stroke="#2a2222" stroke-width="1.9"/>
<text x="518.7" y="277.5" font-size="15.84" fill="#2b7bc1" stroke="#2b7bc1" stroke-width="0.3">p38 MAPK pathway</text>

<!-- T bar and dotted -->
<rect x="582" y="284.3" width="19.3" height="2.6" fill="#1a1a1a"/>
<rect x="590.2" y="286" width="2.8" height="4.2" fill="#1a1a1a"/>
<line x1="591.6" y1="291.5" x2="591.6" y2="320" stroke="#1a1a1a" stroke-width="2.8" stroke-dasharray="2.8,2.1"/>
<g stroke="#d62c2b" stroke-width="2.6">
  <line x1="586" y1="298.2" x2="597.3" y2="305.6"/>
  <line x1="597.3" y1="298.2" x2="586" y2="305.6"/>
</g>

<!-- GUT placeholder -->
<g id="gut">
<rect x="525.8" y="327" width="141.3" height="9" fill="#fefdfb"/>
<rect x="526.7" y="322.6" width="3.2" height="13.4" rx="1.6" fill="#eee7da" stroke="#d3c4b8" stroke-width="0.8"/>
<rect x="531.8" y="322.6" width="3.2" height="13.4" rx="1.6" fill="#eee7da" stroke="#d3c4b8" stroke-width="0.8"/>
<rect x="536.9" y="322.6" width="3.2" height="13.4" rx="1.6" fill="#eee7da" stroke="#d3c4b8" stroke-width="0.8"/>
<rect x="541.9" y="322.6" width="3.2" height="13.4" rx="1.6" fill="#eee7da" stroke="#d3c4b8" stroke-width="0.8"/>
<rect x="547.0" y="322.6" width="3.2" height="13.4" rx="1.6" fill="#eee7da" stroke="#d3c4b8" stroke-width="0.8"/>
<rect x="552.1" y="322.6" width="3.2" height="13.4" rx="1.6" fill="#eee7da" stroke="#d3c4b8" stroke-width="0.8"/>
<rect x="557.2" y="322.6" width="3.2" height="13.4" rx="1.6" fill="#eee7da" stroke="#d3c4b8" stroke-width="0.8"/>
<rect x="562.2" y="322.6" width="3.2" height="13.4" rx="1.6" fill="#eee7da" stroke="#d3c4b8" stroke-width="0.8"/>
<rect x="567.2" y="322.6" width="3.2" height="13.4" rx="1.6" fill="#eee7da" stroke="#d3c4b8" stroke-width="0.8"/>
<rect x="572.2" y="322.6" width="3.2" height="13.4" rx="1.6" fill="#eee7da" stroke="#d3c4b8" stroke-width="0.8"/>
<rect x="577.2" y="322.6" width="3.2" height="13.4" rx="1.6" fill="#eee7da" stroke="#d3c4b8" stroke-width="0.8"/>
<rect x="582.3" y="322.6" width="3.2" height="13.4" rx="1.6" fill="#eee7da" stroke="#d3c4b8" stroke-width="0.8"/>
<rect x="587.3" y="322.6" width="3.2" height="13.4" rx="1.6" fill="#eee7da" stroke="#d3c4b8" stroke-width="0.8"/>
<rect x="592.3" y="322.6" width="3.2" height="13.4" rx="1.6" fill="#eee7da" stroke="#d3c4b8" stroke-width="0.8"/>
<rect x="597.3" y="322.6" width="3.2" height="13.4" rx="1.6" fill="#eee7da" stroke="#d3c4b8" stroke-width="0.8"/>
<rect x="602.3" y="322.6" width="3.2" height="13.4" rx="1.6" fill="#eee7da" stroke="#d3c4b8" stroke-width="0.8"/>
<rect x="607.4" y="322.6" width="3.2" height="13.4" rx="1.6" fill="#eee7da" stroke="#d3c4b8" stroke-width="0.8"/>
<rect x="612.4" y="322.6" width="3.2" height="13.4" rx="1.6" fill="#eee7da" stroke="#d3c4b8" stroke-width="0.8"/>
<rect x="617.4" y="322.6" width="3.2" height="13.4" rx="1.6" fill="#eee7da" stroke="#d3c4b8" stroke-width="0.8"/>
<rect x="622.5" y="322.6" width="3.2" height="13.4" rx="1.6" fill="#eee7da" stroke="#d3c4b8" stroke-width="0.8"/>
<rect x="627.5" y="322.6" width="3.2" height="13.4" rx="1.6" fill="#eee7da" stroke="#d3c4b8" stroke-width="0.8"/>
<rect x="632.5" y="322.6" width="3.2" height="13.4" rx="1.6" fill="#eee7da" stroke="#d3c4b8" stroke-width="0.8"/>
<rect x="637.6" y="322.6" width="3.2" height="13.4" rx="1.6" fill="#eee7da" stroke="#d3c4b8" stroke-width="0.8"/>
<rect x="642.7" y="322.6" width="3.2" height="13.4" rx="1.6" fill="#eee7da" stroke="#d3c4b8" stroke-width="0.8"/>
<rect x="647.8" y="322.6" width="3.2" height="13.4" rx="1.6" fill="#eee7da" stroke="#d3c4b8" stroke-width="0.8"/>
<rect x="652.8" y="322.6" width="3.2" height="13.4" rx="1.6" fill="#eee7da" stroke="#d3c4b8" stroke-width="0.8"/>
<rect x="657.9" y="322.6" width="3.2" height="13.4" rx="1.6" fill="#eee7da" stroke="#d3c4b8" stroke-width="0.8"/>
<rect x="663.0" y="322.6" width="3.2" height="13.4" rx="1.6" fill="#eee7da" stroke="#d3c4b8" stroke-width="0.8"/>
<rect x="530.3" y="327.5" width="1.1" height="7.5" fill="#fff" opacity="0.9"/>
<rect x="535.4" y="327.5" width="1.1" height="7.5" fill="#fff" opacity="0.9"/>
<rect x="540.5" y="327.5" width="1.1" height="7.5" fill="#fff" opacity="0.9"/>
<rect x="545.5" y="327.5" width="1.1" height="7.5" fill="#fff" opacity="0.9"/>
<rect x="550.6" y="327.5" width="1.1" height="7.5" fill="#fff" opacity="0.9"/>
<rect x="555.7" y="327.5" width="1.1" height="7.5" fill="#fff" opacity="0.9"/>
<rect x="565.8" y="327.5" width="1.1" height="7.5" fill="#fff" opacity="0.9"/>
<rect x="570.8" y="327.5" width="1.1" height="7.5" fill="#fff" opacity="0.9"/>
<rect x="575.8" y="327.5" width="1.1" height="7.5" fill="#fff" opacity="0.9"/>
<rect x="580.8" y="327.5" width="1.1" height="7.5" fill="#fff" opacity="0.9"/>
<rect x="585.8" y="327.5" width="1.1" height="7.5" fill="#fff" opacity="0.9"/>
<rect x="590.8" y="327.5" width="1.1" height="7.5" fill="#fff" opacity="0.9"/>
<rect x="600.9" y="327.5" width="1.1" height="7.5" fill="#fff" opacity="0.9"/>
<rect x="605.9" y="327.5" width="1.1" height="7.5" fill="#fff" opacity="0.9"/>
<rect x="610.9" y="327.5" width="1.1" height="7.5" fill="#fff" opacity="0.9"/>
<rect x="616.0" y="327.5" width="1.1" height="7.5" fill="#fff" opacity="0.9"/>
<rect x="621.0" y="327.5" width="1.1" height="7.5" fill="#fff" opacity="0.9"/>
<rect x="626.0" y="327.5" width="1.1" height="7.5" fill="#fff" opacity="0.9"/>
<rect x="636.1" y="327.5" width="1.1" height="7.5" fill="#fff" opacity="0.9"/>
<rect x="641.2" y="327.5" width="1.1" height="7.5" fill="#fff" opacity="0.9"/>
<rect x="646.3" y="327.5" width="1.1" height="7.5" fill="#fff" opacity="0.9"/>
<rect x="651.3" y="327.5" width="1.1" height="7.5" fill="#fff" opacity="0.9"/>
<rect x="656.4" y="327.5" width="1.1" height="7.5" fill="#fff" opacity="0.9"/>
<rect x="661.5" y="327.5" width="1.1" height="7.5" fill="#fff" opacity="0.9"/>
<path d="M526.3,334.8 H560.8 V374.2 Q560.8,378.2 556.8,378.2 H530.3 Q526.3,378.2 526.3,374.2 Z" fill="#e7d6d1"/>
<path d="M560.8,332.8 V374.2 Q560.8,378.2 556.8,378.2 H530.3 Q526.3,378.2 526.3,374.2 V332.8" fill="none" stroke="#cdb4ae" stroke-width="0.9"/>
<circle cx="545.8" cy="366.2" r="7.5" fill="#c9a198"/>
<path d="M561.8,334.8 H595.9 V374.2 Q595.9,378.2 591.9,378.2 H565.8 Q561.8,378.2 561.8,374.2 Z" fill="#e7d6d1"/>
<path d="M595.9,332.8 V374.2 Q595.9,378.2 591.9,378.2 H565.8 Q561.8,378.2 561.8,374.2 V332.8" fill="none" stroke="#cdb4ae" stroke-width="0.9"/>
<circle cx="581.0" cy="366.2" r="7.5" fill="#c9a198"/>
<path d="M596.9,334.8 H631.1 V374.2 Q631.1,378.2 627.1,378.2 H600.9 Q596.9,378.2 596.9,374.2 Z" fill="#e7d6d1"/>
<path d="M631.1,332.8 V374.2 Q631.1,378.2 627.1,378.2 H600.9 Q596.9,378.2 596.9,374.2 V332.8" fill="none" stroke="#cdb4ae" stroke-width="0.9"/>
<circle cx="616.2" cy="366.2" r="7.5" fill="#c9a198"/>
<path d="M632.1,334.8 H666.6 V374.2 Q666.6,378.2 662.6,378.2 H636.1 Q632.1,378.2 632.1,374.2 Z" fill="#e7d6d1"/>
<path d="M666.6,332.8 V374.2 Q666.6,378.2 662.6,378.2 H636.1 Q632.1,378.2 632.1,374.2 V332.8" fill="none" stroke="#cdb4ae" stroke-width="0.9"/>
<circle cx="651.6" cy="366.2" r="7.5" fill="#c9a198"/>
<rect x="562.9" y="321.3" width="57.3" height="25.2" rx="12.6" fill="#f9e1e3" stroke="#a83a48" stroke-width="2.2"/>
<text x="571.6" y="339.8" font-size="14.08" fill="#1a1a1a" stroke="#1a1a1a" stroke-width="0.3">FLR-4</text>
</g>

<text x="576.3" y="397.3" font-size="16.74" fill="#1c396c" stroke="#1c396c" stroke-width="0.3">Gut</text>
</svg>
</body></html>
